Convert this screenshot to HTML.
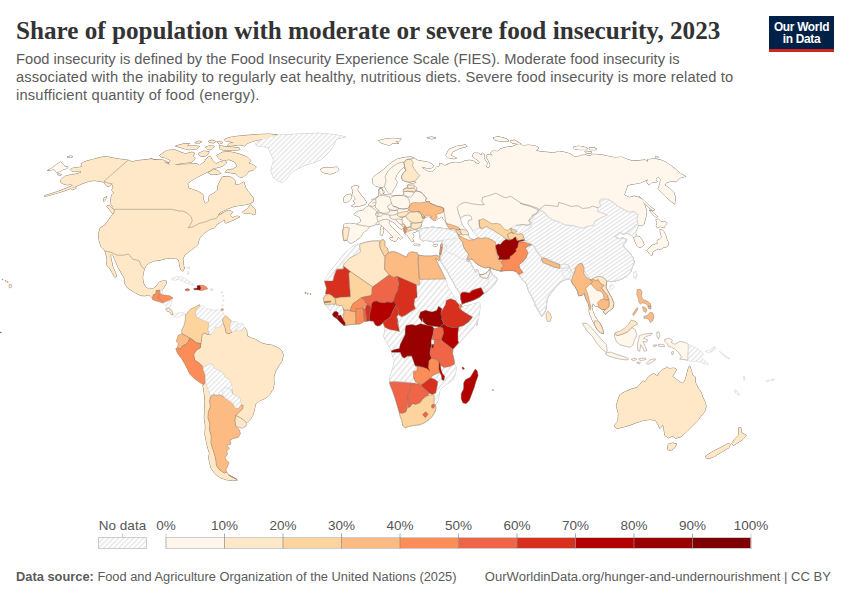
<!DOCTYPE html>
<html><head><meta charset="utf-8">
<style>
html,body{margin:0;padding:0;background:#fff;}
body{width:850px;height:600px;position:relative;overflow:hidden;font-family:"Liberation Sans",sans-serif;}
#title{position:absolute;left:16px;top:16px;font-family:"Liberation Serif",serif;font-weight:bold;font-size:25.17px;line-height:30px;color:#333;white-space:nowrap;letter-spacing:0px;}
#sub{position:absolute;left:16px;top:51px;font-size:14.7px;line-height:17.8px;color:#5b5b5b;white-space:nowrap;}
#sub span{display:block;}
#s2{letter-spacing:0.12px;}#s3{letter-spacing:0.18px;}
#logo{position:absolute;left:769px;top:16px;width:65px;height:36px;background:#002147;border-bottom:0;}
#logo:after{content:"";position:absolute;left:0;bottom:0;width:100%;height:3px;background:#ce261e;}
#logo div{position:absolute;left:0;width:100%;text-align:center;color:#fff;font-weight:bold;font-size:11.9px;line-height:12px;letter-spacing:-0.3px;}
#foot{position:absolute;left:16px;top:569px;font-size:12.85px;line-height:16px;color:#5b5b5b;white-space:nowrap;}
#foot2{position:absolute;right:19px;top:569px;font-size:13.05px;line-height:16px;color:#5b5b5b;white-space:nowrap;}
.lg{position:absolute;top:517.5px;font-size:13.5px;line-height:16px;color:#555;white-space:nowrap;transform:translateX(-50%);}
#map{position:absolute;left:0;top:0;}
</style></head><body>
<div id="title">Share of population with moderate or severe food insecurity, 2023</div>
<div id="sub"><span id="s1">Food insecurity is defined by the Food Insecurity Experience Scale (FIES). Moderate food insecurity is</span><span id="s2">associated with the inability to regularly eat healthy, nutritious diets. Severe food insecurity is more related to</span><span id="s3">insufficient quantity of food (energy).</span></div>
<div id="logo"><div style="top:4.5px">Our World</div><div style="top:16.7px">in Data</div></div>
<div id="foot"><b>Data source:</b> Food and Agriculture Organization of the United Nations (2025)</div>
<div id="foot2">OurWorldinData.org/hunger-and-undernourishment | CC BY</div>
<svg id="map" width="850" height="600" viewBox="0 0 850 600">
<defs><pattern id="hatch" patternUnits="userSpaceOnUse" width="8" height="3.54" patternTransform="rotate(-45)"><rect width="8" height="3.54" fill="#fff"/><rect x="0" y="0" width="8" height="1.2" fill="#e3e3e3"/></pattern><pattern id="hatchL" patternUnits="userSpaceOnUse" width="8" height="3.54" patternTransform="rotate(-45)"><rect width="8" height="3.54" fill="#fff"/><rect x="0" y="0" width="8" height="1.2" fill="#e3e3e3"/></pattern><pattern id="hatchC" patternUnits="userSpaceOnUse" width="8" height="3.29" patternTransform="rotate(-34.6)"><rect width="8" height="3.29" fill="#fff"/><rect x="0" y="0" width="8" height="1.2" fill="#e3e3e3"/></pattern><pattern id="hatchA" patternUnits="userSpaceOnUse" width="8" height="4.3" patternTransform="rotate(-50)"><rect width="8" height="4.3" fill="#fff"/><rect x="0" y="0" width="8" height="1.4" fill="#e3e3e3"/></pattern></defs>
<path d="M47.41,170.59 52.35,167.79 56.47,164.49 60.59,161.86 63.06,164 64.71,166.47 68,166.8 67.18,168.45 63.06,169.44 60.59,171.41 56.47,172.24 54,169.44 49.88,170.09Z" fill="#fff7ec" stroke="#8c7f72" stroke-width="1" stroke-linejoin="round"/>
<path d="M67.18,156.92 70.47,155.93 72.94,156.59 70.47,157.58Z" fill="#fff7ec" stroke="#8c7f72" stroke-width="1" stroke-linejoin="round"/>
<path d="M57.29,173.88 61.41,174.38 61.08,175.2 57.79,174.87Z" fill="#fff7ec" stroke="#8c7f72" stroke-width="1" stroke-linejoin="round"/>
<path d="M82,162.85 86.12,161.2 92.71,159.55 100.12,157.41 106.71,156.59 112.47,157.91 119.06,159.06 128.12,160.21 132.24,161.86 136.35,160.71 143.76,159.88 152,159.06 156.12,160.21 161.06,159.55 165.18,160.71 168.47,162.85 170.12,164.82 180,165.15 150,158.76 154.94,159.92 161.53,160.41 167.29,163.71 169.76,164.86 178.82,164.53 187.88,164.2 196.94,163.71 199.41,165.35 204.35,162.06 206.82,157.94 210.12,156.29 212.59,160.41 215.88,163.71 220,162.06 224.94,160.41 226.59,162.88 222.47,166.18 216.71,167.82 213.41,168.15 210.94,170.29 204.35,173.59 197.76,176.88 192,180.18 187.55,183.47 188.71,188.41 192.82,189.56 198.59,191.71 202.71,194.18 203.53,199.94 205.18,203.73 208.47,201.59 209.29,195.82 215.06,192.53 217.53,190.06 217.86,185.94 220,181 222.47,176.88 227.41,176.39 231.53,177.38 234.82,180.18 235.65,185.12 239.76,184.29 243.88,181.82 245.53,187.59 248.82,192.53 252.94,197.47 253.44,201.59 253.18,202.12 249.06,203.76 244.12,204.92 239.18,205.41 233.41,206.56 226.82,209.2 221.06,212 217.76,214.8 219.41,214.8 222.71,213.15 226,211.18 230.12,210.35 232.59,212 230.12,215.29 232.59,217.76 236.71,216.12 240,216.61 237.53,218.09 231.76,220.73 226,223.04 225.18,222.71 224.35,219.41 221.06,221.88 216.94,224.35 214.8,227.65 209.53,229.29 203.76,233.41 199.32,238.35 197.67,244.94 191.41,249.88 184.82,254.82 182.85,258.94 184,268 184.59,267.53 182.94,271.15 180.8,270 179.65,265.06 178.82,260.12 175.53,257.98 171.41,258.47 166.47,257.98 164,259.29 159.88,260.12 154.12,260.94 149.18,262.92 145.88,265.88 144.24,269.18 143.41,272.47 142.59,277.41 143.41,283.18 145.88,287.29 149.18,289.27 153.29,288.61 156.59,285.65 159.06,282.35 162.35,281.04 166.47,281.04 165.98,284 164,287.29 162.35,289.76 160.38,290.26 159.88,290.26 156.09,290.59 155.76,293.88 153.29,294.71 152.47,298 149.18,294.71 145.06,295.86 140.94,295.53 134.35,292.24 127.76,288.12 124.47,283.18 124.47,278.24 122,274.12 118.21,267.53 115.41,260.94 112.94,255.18 112.12,254.35 110.47,255.18 110.96,258.47 112.12,263.41 112.94,267.53 115.41,272.47 116.56,276.59 114.59,277.08 112.12,272.47 109.32,267.53 106.35,265.06 107.18,260.12 106.02,254.35 105.04,251.06 101.41,247.44 99.44,242 98.45,234.59 100.09,228 105.06,224.94 109.18,219.18 112.47,214.56 114.12,213.41 114.94,209.62 113.29,207.65 111.15,204.35 110.82,199.41 111.65,194.8 114.12,192.49 111.65,190.35 113.29,187.06 111.65,183.76 109.18,186.56 105.88,185.41 104.24,182.12 99.29,181.29 94.35,180.47 88.59,181.29 82,183.76 75.41,186.56 68,189.53 57.29,193.15 44.61,196.45 44.12,195.79 56.47,192 66.35,188.21 72.94,185.41 70.47,184.26 67.18,184.92 63.06,183.76 60.59,182.12 61.08,179.32 64.71,176.35 71.29,174.71 77.06,173.88 81.18,172.24 80.35,170.59 77.88,171.41 72.12,171.41 70.47,169.44 72.94,168.12 79.53,167.29 82.49,166.47 81.18,165.65Z" fill="#fee8c8" stroke="#8c7f72" stroke-width="1" stroke-linejoin="round"/>
<path d="M106.71,206 109.18,205.18 113.29,209.29 114.45,211.76 112.47,213.41 109.18,209.29Z" fill="#fee8c8" stroke="#8c7f72" stroke-width="1" stroke-linejoin="round"/>
<path d="M103.41,198.59 106.71,196.45 105.06,200.24 103.91,201.39Z" fill="#fee8c8" stroke="#8c7f72" stroke-width="1" stroke-linejoin="round"/>
<path d="M70.47,188.21 75.41,187.06 76.24,188.21 72.12,189.86Z" fill="#fee8c8" stroke="#8c7f72" stroke-width="1" stroke-linejoin="round"/>
<path d="M224.94,139 232.35,136.86 242.24,135.71 257.06,134.55 268.59,134.06 277.65,134.88 271.88,136.86 263.65,139 257.06,140.15 252.12,141.47 247.18,143.45 244.71,146.08 238.94,144.76 234,145.59 227.41,146.08 229.06,143.45 234,142.29 229.06,141.47 224.94,140.65Z" fill="#fee8c8" stroke="#8c7f72" stroke-width="1" stroke-linejoin="round"/>
<path d="M159.55,155.47 166.47,150.53 174.71,149.71 180.47,152.18 185.41,153.82 192,152.18 194.47,153 193.15,156.29 195.29,158.76 192,162.06 185.41,162.88 178.82,163.71 173.06,164.53 168.12,164.2 170.59,160.41 165.65,157.94 161.53,157.12Z" fill="#fee8c8" stroke="#8c7f72" stroke-width="1" stroke-linejoin="round"/>
<path d="M175.53,146.08 182.94,143.94 189.53,143.45 187.06,146.08 192.82,145.59 199.41,146.41 196.94,148.88 189.53,149.71 185.41,148.88 179.65,147.24Z" fill="#fee8c8" stroke="#8c7f72" stroke-width="1" stroke-linejoin="round"/>
<path d="M194.8,142.79 198.59,141.14 201.88,141.47 199.41,143.12Z" fill="#fee8c8" stroke="#8c7f72" stroke-width="1" stroke-linejoin="round"/>
<path d="M208.47,141.14 211.76,140.15 215.88,141.47 213.41,143.12 209.29,142.29Z" fill="#fee8c8" stroke="#8c7f72" stroke-width="1" stroke-linejoin="round"/>
<path d="M216.71,141.8 220,141.14 222.47,142.79 219.18,143.94Z" fill="#fee8c8" stroke="#8c7f72" stroke-width="1" stroke-linejoin="round"/>
<path d="M205.18,147.24 210.12,145.59 214.24,146.41 211.76,149.38 206.82,148.88Z" fill="#fee8c8" stroke="#8c7f72" stroke-width="1" stroke-linejoin="round"/>
<path d="M219.18,145.59 224.12,146.41 232.35,147.24 238.94,147.73 239.76,149.71 232.35,150.53 224.94,150.53 220,148.88Z" fill="#fee8c8" stroke="#8c7f72" stroke-width="1" stroke-linejoin="round"/>
<path d="M198.59,153.33 203.53,151.02 209.29,151.68 206.82,155.47 201.88,156.62 199.41,155.47Z" fill="#fee8c8" stroke="#8c7f72" stroke-width="1" stroke-linejoin="round"/>
<path d="M216.71,155.47 222.47,152.18 229.06,151.68 235.65,153 241.41,154.65 247.18,157.12 250.8,160.41 248.82,163.21 252.94,164.86 256.24,167 252.94,170.29 248.82,171.12 246.35,174.41 242.24,177.71 238.12,176.39 235.65,173.59 230.71,172.76 224.94,171.94 227.41,169.8 233.18,169.14 237.29,166.18 234.82,162.06 229.06,159.59 223.29,160.41 219.18,158.76Z" fill="#fee8c8" stroke="#8c7f72" stroke-width="1" stroke-linejoin="round"/>
<path d="M208.47,172.76 213.41,169.14 218.35,170.79 220.82,173.59 215.06,174.41 210.94,174.41Z" fill="#fee8c8" stroke="#8c7f72" stroke-width="1" stroke-linejoin="round"/>
<path d="M242.47,212 247.41,208.71 250.71,204.59 252.35,207.06 255.32,209.53 255.65,214.14 253.18,214.8 250.71,213.15 247.41,213.15 244.12,213.15Z" fill="#fee8c8" stroke="#8c7f72" stroke-width="1" stroke-linejoin="round"/>
<path d="M255.71,143.12 261.47,139.82 271.35,136.86 277.94,135.21 299.35,134.06 319.12,133.24 333.94,134.55 345.47,136.86 336.41,139 333.94,144.76 330.65,149.71 325.71,155.47 320.76,159.59 314.18,162.55 307.59,164.53 301,167 294.41,170.29 289.47,174.41 285.35,180.18 282.06,182.32 277.94,181 273,176.88 271.02,171.12 272.18,165.35 273.82,160.41 272.18,156.29 269.71,151.35 268.06,147.24 261.47,146.41 256.53,145.59Z" fill="url(#hatch)" stroke="#c8c8c8" stroke-width="1" stroke-linejoin="round"/>
<path d="M320.76,169.14 324.06,167.49 330.65,167.82 337.24,167 338.88,169.47 336.41,171.94 330.65,174.08 324.88,173.09 321.59,171.94Z" fill="#fff7ec" stroke="#8c7f72" stroke-width="1" stroke-linejoin="round"/>
<path d="M202.12,334.53 204.59,333.21 207.55,334.53 210.85,334.53 214.14,330.41 215.79,327.12 219.41,327.12 223.53,323.82 225.18,327.94 226,332.88 228.96,333.71 232.26,332.06 235.06,330.41 238.35,330.91 241.65,330.41 244.45,327.12 246.59,330.41 247.41,336.18 250.71,337.82 255.65,339.47 260.59,342.76 266.35,344.41 272.12,345.24 277.88,347.71 282,351 283.32,355.12 282,360.88 278.71,365.82 275.41,371.59 273.76,377.35 274.09,383.94 272.94,389.71 272.12,389.94 269.65,394.88 265.53,398.18 259.76,400.65 255.65,403.94 254.33,409.71 253.18,414.65 250.71,418.76 246.59,422.88 243.29,419.59 239.18,417.12 235.88,415.47 239.18,412.18 242.47,408.88 243.29,405.59 240.82,404.76 241.15,403.12 240,398.18 236.71,395.71 232.59,394.06 231.76,384.76 229.29,379 225.18,377.35 222.71,372.41 217.76,369.94 213.65,367.47 212,363.35 207.88,365 202.94,366.65 199.65,363.35 194.71,360.06 193.88,354.29 196.35,350.18 200.47,347.71 200.96,343.59 201.62,339.47Z" fill="#fee8c8" stroke="#8c7f72" stroke-width="1" stroke-linejoin="round"/>
<path d="M203.76,384.76 205.41,381.47 206.56,385 208.71,391.59 210.85,396.53 209.53,400.65 210.35,406.41 208.21,412.18 207.88,417.94 209.86,423.71 209.53,430.29 211.18,436.06 210.85,442.65 212.49,448.41 214.47,454.18 215.79,459.94 216.45,465.71 219.41,469.82 224.35,473.12 226.82,472.29 228.47,474.76 235.88,478.88 237.2,480.2 232.59,480.53 226,479.71 219.41,477.24 214.47,473.12 211.18,468.18 209.53,462.41 208.71,457.47 209.53,453.35 208.21,449.24 206.56,442.65 204.92,434.41 205.41,426.18 204.26,417.94 204.59,409.71 204.92,401.47 204.26,393.24 202.94,385Z" fill="#fee8c8" stroke="#8c7f72" stroke-width="1" stroke-linejoin="round"/>
<path d="M355.41,244.47 359.53,244.14 364.47,242.49 371.06,241.18 379.29,240.85 383.41,239.53 385.06,242 384.56,245.29 387.53,248.59 388.35,252.71 392.47,251.39 397.41,252.71 402.35,255.18 406.47,257.32 408.12,253.53 411.41,251.88 417.18,252.71 418.49,255.18 425.41,256 432,256 436.12,255.18 440.24,256.82 438.92,260.94 437.27,259.29 435.29,258.47 437.76,263.41 441.88,271.65 445.51,279.06 446.65,282 447.12,286.24 449.47,289.53 451.82,293.29 455.12,298 457.94,301.76 460.29,304.59 462,306.73 467.76,305.41 474.35,303.76 479.29,302.12 480.12,305.41 479.29,313.65 477.98,320.24 476.82,326 477.65,318 475.18,324.59 470.24,331.18 463.65,337.76 459.53,342.71 452.94,349.29 452.45,353.41 453.76,358.35 454.59,364.12 456.24,367.41 455.41,374 452.94,379.76 447.18,383.88 442.24,387.18 439.76,390.47 438.94,395.41 438.12,400.35 436.47,403.65 435.32,404.49 435.98,408.12 434.82,412.24 432.35,416.02 429.06,419.65 424.12,422.94 419.18,424.92 413.41,425.41 408.47,426.56 405.18,427.88 402.71,425.41 401.88,420.47 400.24,416.35 399.41,412.73 397.76,406.94 395.29,398.71 392.49,390.47 390.35,385.53 389.53,381.91 390.35,375.65 393.15,367.41 394.47,360.82 392.49,355.88 391.18,350.94 388.71,345.18 385.41,340.24 383.76,336.12 384.59,331.18 385.01,327.35 382.94,322.65 380.12,325.47 377.29,325.94 374.94,324.53 373.53,321.24 369.58,320.76 366.75,321.24 364.31,321.24 362.24,322.65 359.41,324.06 356.12,324.06 350.94,324.53 347.18,325 345.29,325.47 343.88,325.47 341.53,323.59 339.18,321.24 336.82,318.41 334.94,317.47 333.06,316.06 332.59,314.18 329.76,310.41 327.88,307.59 325.06,304.76 324.4,302.88 324.12,301.75 323.18,298.65 325.06,295.82 325.53,293.94 326.59,288.12 325.27,284 324.61,281.04 326.59,276.59 329.88,271.65 334,266.71 338.12,261.76 342.24,256 346.35,251.88 351.29,247.76Z" fill="url(#hatchA)" stroke="#c8c8c8" stroke-width="1" stroke-linejoin="round"/>
<path d="M344,240.79 343.18,236.18 342.85,231.56 343.51,227.94 343.51,227.12 344,224.32 349.76,223.33 356.35,224.32 361.29,221.35 359.65,217.24 353.88,214.44 357.18,211.47 362.12,210.65 365.41,207.85 368.71,205.71 368.76,204.35 372.06,201.06 374.53,198.59 377.49,197.76 378.65,195.29 379.14,192 378.65,189.53 381.12,188.21 382.76,191.18 383.09,194.14 386.06,194.8 391,195.29 395.94,195.79 401.71,195.79 404.18,194.47 403.35,191.18 404.18,188.71 407.47,187.88 408.29,184.59 412.41,183.76 415.71,182.94 416.53,182.12 414.06,181.29 409.12,182.12 405,181.29 402.2,179.65 401.71,176.35 403.35,173.06 406.15,170.59 405,168.12 403.35,167.29 400.06,170.59 396.76,174.71 395.12,178.82 397.26,182.12 395.94,185.41 393.47,189.53 391.82,192.82 389.35,193.65 387.71,192 386.06,189.53 384.41,186.24 381.94,187.55 379.47,187.06 375.35,185.91 372.55,182.94 372.55,178 376.18,174.71 381.12,171.41 386.06,167.29 391.82,162.35 397.59,159.06 404.18,157.41 410.76,156.92 414.06,158.24 417.35,160.21 422.29,161.2 427.24,161.86 432.18,164 433.82,166.47 430.53,168.45 425.59,167.79 421.47,166.47 423.94,168.94 427.24,171.08 431.35,172.24 433.82,170.59 436.29,167.29 440.41,165.65 439.59,163.18 442.06,164 444.53,165.65 450.29,163.18 455.24,162.35 460.18,162.85 465.12,160.71 470.06,160.21 475,161.53 474.76,162.88 478.88,163.71 479.71,162.06 475.59,158.76 472.29,156.29 473.94,153 478.88,153.33 481.35,155.47 482.18,153 484.65,154.65 483.82,157.94 487.12,162.88 486.29,167 488.76,168.15 490.41,165.35 488.76,161.24 486.29,157.12 487.12,154.65 492.88,155.47 490.41,153 492.88,151.02 497.82,151.35 500.29,148.88 506.06,147.24 512.65,146.41 516.76,144.44 520.06,143.94 522.53,145.59 529.12,145.09 535.71,146.08 539,148.06 535.71,150.53 540.65,151.68 547.24,152.18 553.82,153 558.76,151.35 564.53,152.18 570.29,153.82 573.59,156.29 577.71,157.12 580.18,155.47 585.12,154.98 590.06,155.96 592.53,154.32 595,154.32 601.35,154.65 607.94,156.29 614.53,157.61 621.94,157.12 627.71,159.59 632.65,160.91 640.06,160.41 645,159.92 648.29,162.06 647.47,159.59 654.06,158.76 660.65,159.92 665.59,162.06 670.53,165.35 675.47,169.14 680.41,173.59 685.68,176.39 680.41,177.71 676.29,181.82 672.18,181 666.41,182.65 664.76,185.12 669.71,188.41 673.82,192.53 675.47,197.47 674.65,204.06 671.35,201.59 665.59,196.65 660.65,191.71 658.18,188.41 659.82,184.29 660.65,179.35 658.18,176.39 655.71,179.35 657.35,181.82 651.59,182.65 649.12,185.12 646.65,181.82 648.29,179.35 640.88,182.65 634.29,183.96 627.71,185.12 626.06,190.06 624.08,195 629.35,197.47 634.29,196.15 639.24,197.47 642.53,200.76 645,205.71 646.65,211.47 645.82,217.24 644.18,223 644.35,224 641.88,225.65 638.59,224.82 636.94,228.94 635.29,232.24 636.12,234.71 634.14,238 636.94,236.02 640.24,237.18 642.38,240.47 644.02,244.59 642.38,246.56 639.08,247.55 636.94,245.41 635.29,242.12 633.65,237.18 630.35,234.71 627.06,233.06 622.94,234.38 620.47,232.24 617.18,234.71 614.71,236.35 618.82,238.82 622.94,238 627.06,239.65 625.41,242.12 622.94,245.41 625.41,248.71 629.53,252.82 633.15,257.76 634.14,262.71 632,267.65 630.35,272.59 627.06,275.88 622.94,278.35 618.82,280 614.71,281.15 610.59,281.65 608.12,280.82 606.47,280.82 606.65,281.29 605.82,287.06 608.29,292 611.59,297.76 613.73,303.53 613.24,307.65 609.12,310.94 605,314.24 603.35,311.76 605.82,309.29 602.53,309.62 599.56,307.98 598.41,306.82 595.12,306 592.65,303.53 591.82,307.65 592.98,311.76 594.62,315.88 597.26,320 600.06,323.29 602.53,328.24 603.35,333.67 600.88,333.18 597.59,329.88 594.62,324.94 592.65,320.82 590.18,315.06 589.02,310.94 589.35,307.65 588.53,302.71 587.38,301.88 585.24,296.94 584.41,293.15 581.94,295.29 578.65,295.79 577.49,291.18 575.35,287.06 572.55,283.76 571.56,280.47 568.76,278.82 565.47,279.65 563,280.47 559.71,282.94 555.59,287.06 552.29,291.18 549,295.29 546.86,299.41 546.53,304.35 545.71,310.12 543.24,315.06 541.59,316.21 539.12,311.76 536.65,307.65 535,305.18 535.29,303.76 532,297.18 528.71,291.41 527.06,285.65 525.41,282.35 522.94,280.38 520.8,277.41 518.82,274.45 516.35,271.65 512.24,270 505.65,270.49 500.71,271.15 501.24,271.18 497.47,270.24 492.76,268.82 490.88,267.88 489,266.94 485.24,267.88 480.53,266 477.24,264.12 473.94,261.29 472.06,258.94 469.71,258.94 466.88,258.47 467.82,258.94 469.24,260.35 470.65,262.71 472.06,266 473.94,269.29 475.82,272.59 476.58,271.65 476.29,269.29 477.71,270.24 478.65,272.59 479.59,274.94 481.47,274.94 484.29,274.28 487.12,272.59 489,270.24 489.94,267.41 490.88,272.12 492.76,274.94 495.59,276.82 497.47,279.18 494.65,283.88 490.88,288.12 487.12,291.41 483.82,293.48 479.59,297.06 474.88,299.41 470.18,301.29 465.47,302.71 462.18,304.12 460.76,298.94 460.58,294.24 458.88,291.41 456.06,287.65 453.24,282 450.41,277.29 447.59,271.65 444.29,266.94 441.47,262.24 441,261.76 440.65,257.47 439.82,255 440.15,250.88 440.65,247.26 441.14,244.29 442.29,241.82 443.12,240.18 438.18,241 433.24,241.82 428.29,240.67 425,240.18 423.88,241.12 420.26,239.14 419.76,234.53 418.94,230.41 421.41,228.76 427.18,227.94 432.12,227.12 438.71,227.94 445.29,228.76 450.24,229.59 455.18,227.94 450.24,225.47 447.76,223.82 443.65,219.71 442,216.41 437.88,218.88 435.41,220.53 432.94,218.06 428.82,216.41 424.71,217.24 422.24,219.71 420.59,222.18 421.41,225.47 420.26,227.94 418.94,227.94 415.65,228.76 418.12,230.41 415.65,232.06 412.35,232.88 414,236.18 412.35,238.65 414,241.94 411.53,241.12 409.06,237.82 407.41,235.35 404.94,233.71 403.79,230.41 404.12,227.12 401.65,229.59 397.53,226.29 393.41,222.18 390.12,220.53 388.47,223 391.76,227.12 395.88,231.24 400,235.35 402.47,238.15 400,239.14 398.35,237 396.71,240.29 395.06,241.94 394.24,238.65 390.94,234.53 386.82,230.41 383.53,227.12 379.41,223.82 375.29,224.65 369.53,226.62 367.06,229.59 362.94,232.88 360.47,237 356.35,240.29 352.24,242.76 349.76,243.09 347.29,240.29Z" fill="#fff7ec" stroke="#8c7f72" stroke-width="1" stroke-linejoin="round"/>
<path d="M351.47,187.06 355.59,185.41 358.88,186.56 357.24,189.53 359.71,193.15 363.33,197.76 366.29,201.88 365.47,204.35 359.71,206 353.12,206.82 351.47,206 355.59,203.53 353.12,201.06 355.59,199.41 354.76,196.94 352.29,194.47 353.12,191.18Z" fill="#fff7ec" stroke="#8c7f72" stroke-width="1" stroke-linejoin="round"/>
<path d="M343.56,197.76 346.53,194.8 350.65,194.14 351.8,196.94 350.15,200.24 346.53,202.38 343.56,201.88Z" fill="#fff7ec" stroke="#8c7f72" stroke-width="1" stroke-linejoin="round"/>
<path d="M389.62,238.15 393.41,237.49 396.71,238.15 395.06,241.12 391.27,240.29Z" fill="#fff7ec" stroke="#8c7f72" stroke-width="1" stroke-linejoin="round"/>
<path d="M380.73,227.12 382.71,226.29 383.53,230.41 382.38,235.35 380.24,234.53Z" fill="#fff7ec" stroke="#8c7f72" stroke-width="1" stroke-linejoin="round"/>
<path d="M381.88,222.18 383.04,221.68 383.53,225.47 382.05,225.96Z" fill="#fff7ec" stroke="#8c7f72" stroke-width="1" stroke-linejoin="round"/>
<path d="M414,244.08 419.76,244.41 419.76,245.73 414.33,245.4Z" fill="#fff7ec" stroke="#8c7f72" stroke-width="1" stroke-linejoin="round"/>
<path d="M432.94,245.24 437.06,244.08 437.39,245.73 434.09,246.72Z" fill="#fff7ec" stroke="#8c7f72" stroke-width="1" stroke-linejoin="round"/>
<path d="M493.21,137.85 497.82,136.86 504.41,138.18 508.53,140.15 506.06,141.47 499.47,141.14 494.53,139.82Z" fill="#fff7ec" stroke="#8c7f72" stroke-width="1" stroke-linejoin="round"/>
<path d="M510.18,140.65 514.29,140.15 517.59,141.8 514.29,143.45 510.67,142.29Z" fill="#fff7ec" stroke="#8c7f72" stroke-width="1" stroke-linejoin="round"/>
<path d="M573.26,147.24 578.53,146.08 585.94,147.73 586.76,149.38 580.18,149.71 574.41,148.88Z" fill="#fff7ec" stroke="#8c7f72" stroke-width="1" stroke-linejoin="round"/>
<path d="M589.24,148.06 595,147.73 595,149.71 590.06,149.71Z" fill="#fff7ec" stroke="#8c7f72" stroke-width="1" stroke-linejoin="round"/>
<path d="M575,146.74 581.59,146.41 587.35,148.06 586.53,149.71 579.94,149.38 575,148.88Z" fill="#fff7ec" stroke="#8c7f72" stroke-width="1" stroke-linejoin="round"/>
<path d="M589,148.06 596.41,148.55 596.41,149.71 589.49,149.38Z" fill="#fff7ec" stroke="#8c7f72" stroke-width="1" stroke-linejoin="round"/>
<path d="M584.88,151.35 591.47,151.68 591.14,153.33 585.71,153Z" fill="#fff7ec" stroke="#8c7f72" stroke-width="1" stroke-linejoin="round"/>
<path d="M655.38,156.29 658.18,156.79 657.85,157.94 655.71,157.45Z" fill="#fff7ec" stroke="#8c7f72" stroke-width="1" stroke-linejoin="round"/>
<path d="M445.88,155.29 448.94,149.41 456.47,146.35 465.88,144.71 467.06,146.35 458.82,148.71 452.94,151.76 450.59,155.29 456.47,158.12 454.12,158.82 448.24,157.65Z" fill="#fff7ec" stroke="#8c7f72" stroke-width="1" stroke-linejoin="round"/>
<path d="M378.35,140.71 385.88,138.82 392.94,138.35 401.18,138.82 400,140.71 395.29,141.18 398.82,143.53 392.94,143.06 389.41,145.41 384.71,144 381.18,143.06Z" fill="#fff7ec" stroke="#8c7f72" stroke-width="1" stroke-linejoin="round"/>
<path d="M427.06,137.65 431.76,136.94 435.76,137.88 431.76,139.06Z" fill="#fff7ec" stroke="#8c7f72" stroke-width="1" stroke-linejoin="round"/>
<path d="M493.65,137.65 498.82,136.94 507.06,139.29 508.71,141.18 501.18,140.71 495.29,139.29Z" fill="#fff7ec" stroke="#8c7f72" stroke-width="1" stroke-linejoin="round"/>
<path d="M510.59,140.71 516.47,141.65 521.18,144 517.18,144 511.76,142.59Z" fill="#fff7ec" stroke="#8c7f72" stroke-width="1" stroke-linejoin="round"/>
<path d="M639.24,196.65 644.18,200.76 649.94,206.53 654.88,209.82 652.41,210.32 648.29,207.35 644.18,203.24 640.06,198.29Z" fill="#fff7ec" stroke="#8c7f72" stroke-width="1" stroke-linejoin="round"/>
<path d="M651.59,210.65 657.35,216.41 656.04,217.24 652.41,213.94Z" fill="#fff7ec" stroke="#8c7f72" stroke-width="1" stroke-linejoin="round"/>
<path d="M649.29,210 652.59,211.65 657.53,216.59 655.88,216.92 651.76,213.29Z" fill="#fff7ec" stroke="#8c7f72" stroke-width="1" stroke-linejoin="round"/>
<path d="M655.88,219.88 658.35,219.06 660.82,221.53 664.94,221.53 667.08,223.18 664.94,225.65 664.12,227.79 660,226.47 657.53,228.12 656.21,225.65 657.2,222.85Z" fill="#fff7ec" stroke="#8c7f72" stroke-width="1" stroke-linejoin="round"/>
<path d="M660,229.44 663.29,230.59 665.44,234.71 666.59,238.82 668.73,243.76 667.41,246.56 663.29,247.55 660.82,249.53 658.35,248.71 655.06,250.35 652.59,252 651.76,255.79 650.12,254.47 646.82,250.35 649.29,248.21 651.76,245.41 655.06,244.26 657.53,243.76 657.2,240.47 659.18,239.65 661.65,237.18 660.49,233.06Z" fill="#fff7ec" stroke="#8c7f72" stroke-width="1" stroke-linejoin="round"/>
<path d="M616.35,405.65 618.82,397.41 620.47,394.12 625.41,391.65 631.18,389.18 636.94,387.53 640.24,384.24 642.71,380.94 645.18,381.76 648.47,376.82 653.41,373.53 657.53,376 659.18,372.71 662.47,369.41 665.44,368.59 666.59,366.94 669.06,368.59 674,368.09 676.47,369.41 674.82,372.71 672.35,376.33 677.29,380.12 682.24,383.41 684.71,381.27 686.35,376 688,369.41 689.65,365.79 691.29,370.24 692.45,375.18 695.08,376.82 695.41,382.59 697.88,387.53 701.18,392.47 702.82,397.41 705.29,402.35 706.12,406.47 704.47,412.24 702.59,413.82 697.88,420.41 692.24,426.06 686.59,431.71 680.94,436.79 675.29,438.29 673.41,435.47 668.71,437.92 664.94,435.47 664,429.82 663.06,424.74 659.86,428.51 658.35,425.12 655.53,420.41 649.88,419.47 643.29,420.41 635.76,422.86 630.12,425.12 623.53,427 616.94,428.51 614.12,426.06 617.88,421.35 618.45,413.82Z" fill="#fee8c8" stroke="#8c7f72" stroke-width="1" stroke-linejoin="round"/>
<path d="M668.14,444.32 672.47,443 676.8,443.94 674.35,448.08 670.59,450.53 667.76,449.59Z" fill="#fee8c8" stroke="#8c7f72" stroke-width="1" stroke-linejoin="round"/>
<path d="M738.92,427.38 740.8,427.94 741.55,432.65 746.45,435.47 743.06,439.24 737.41,443 733.27,445.45 731.76,443.56 734.59,439.24 738.35,435.47Z" fill="#fee8c8" stroke="#8c7f72" stroke-width="1" stroke-linejoin="round"/>
<path d="M705.41,456.18 712.94,451.47 720.47,447.71 728,443.56 730.26,444.32 728.94,447.71 722.35,451.47 714.82,456.18 709.18,458.62 706.35,458.06Z" fill="#fee8c8" stroke="#8c7f72" stroke-width="1" stroke-linejoin="round"/>
<path d="M47.41,170.59 52.35,167.79 56.47,164.49 60.59,161.86 63.06,164 64.71,166.47 68,166.8 67.18,168.45 63.06,169.44 60.59,171.41 56.47,172.24 54,169.44 49.88,170.09Z" fill="#fff7ec"/>
<path d="M67.18,156.92 70.47,155.93 72.94,156.59 70.47,157.58Z" fill="#fff7ec"/>
<path d="M57.29,173.88 61.41,174.38 61.08,175.2 57.79,174.87Z" fill="#fff7ec"/>
<path d="M82,162.85 86.12,161.2 92.71,159.55 100.12,157.41 106.71,156.59 112.47,157.91 119.06,159.06 128.12,160.21 132.24,161.86 136.35,160.71 143.76,159.88 152,159.06 156.12,160.21 161.06,159.55 165.18,160.71 168.47,162.85 170.12,164.82 180,165.15 150,158.76 154.94,159.92 161.53,160.41 167.29,163.71 169.76,164.86 178.82,164.53 187.88,164.2 196.94,163.71 199.41,165.35 204.35,162.06 206.82,157.94 210.12,156.29 212.59,160.41 215.88,163.71 220,162.06 224.94,160.41 226.59,162.88 222.47,166.18 216.71,167.82 213.41,168.15 210.94,170.29 204.35,173.59 197.76,176.88 192,180.18 187.55,183.47 188.71,188.41 192.82,189.56 198.59,191.71 202.71,194.18 203.53,199.94 205.18,203.73 208.47,201.59 209.29,195.82 215.06,192.53 217.53,190.06 217.86,185.94 220,181 222.47,176.88 227.41,176.39 231.53,177.38 234.82,180.18 235.65,185.12 239.76,184.29 243.88,181.82 245.53,187.59 248.82,192.53 252.94,197.47 253.44,201.59 253.18,202.12 249.06,203.76 244.12,204.92 239.18,205.41 233.41,206.56 226.82,209.2 221.06,212 217.76,214.8 219.41,214.8 222.71,213.15 226,211.18 230.12,210.35 232.59,212 230.12,215.29 232.59,217.76 236.71,216.12 240,216.61 237.53,218.09 231.76,220.73 226,223.04 225.18,222.71 224.35,219.41 221.06,221.88 216.94,224.35 214.8,227.65 209.53,229.29 203.76,233.41 199.32,238.35 197.67,244.94 191.41,249.88 184.82,254.82 182.85,258.94 184,268 184.59,267.53 182.94,271.15 180.8,270 179.65,265.06 178.82,260.12 175.53,257.98 171.41,258.47 166.47,257.98 164,259.29 159.88,260.12 154.12,260.94 149.18,262.92 145.88,265.88 144.24,269.18 143.41,272.47 142.59,277.41 143.41,283.18 145.88,287.29 149.18,289.27 153.29,288.61 156.59,285.65 159.06,282.35 162.35,281.04 166.47,281.04 165.98,284 164,287.29 162.35,289.76 160.38,290.26 159.88,290.26 156.09,290.59 155.76,293.88 153.29,294.71 152.47,298 149.18,294.71 145.06,295.86 140.94,295.53 134.35,292.24 127.76,288.12 124.47,283.18 124.47,278.24 122,274.12 118.21,267.53 115.41,260.94 112.94,255.18 112.12,254.35 110.47,255.18 110.96,258.47 112.12,263.41 112.94,267.53 115.41,272.47 116.56,276.59 114.59,277.08 112.12,272.47 109.32,267.53 106.35,265.06 107.18,260.12 106.02,254.35 105.04,251.06 101.41,247.44 99.44,242 98.45,234.59 100.09,228 105.06,224.94 109.18,219.18 112.47,214.56 114.12,213.41 114.94,209.62 113.29,207.65 111.15,204.35 110.82,199.41 111.65,194.8 114.12,192.49 111.65,190.35 113.29,187.06 111.65,183.76 109.18,186.56 105.88,185.41 104.24,182.12 99.29,181.29 94.35,180.47 88.59,181.29 82,183.76 75.41,186.56 68,189.53 57.29,193.15 44.61,196.45 44.12,195.79 56.47,192 66.35,188.21 72.94,185.41 70.47,184.26 67.18,184.92 63.06,183.76 60.59,182.12 61.08,179.32 64.71,176.35 71.29,174.71 77.06,173.88 81.18,172.24 80.35,170.59 77.88,171.41 72.12,171.41 70.47,169.44 72.94,168.12 79.53,167.29 82.49,166.47 81.18,165.65Z" fill="#fee8c8"/>
<path d="M106.71,206 109.18,205.18 113.29,209.29 114.45,211.76 112.47,213.41 109.18,209.29Z" fill="#fee8c8"/>
<path d="M103.41,198.59 106.71,196.45 105.06,200.24 103.91,201.39Z" fill="#fee8c8"/>
<path d="M70.47,188.21 75.41,187.06 76.24,188.21 72.12,189.86Z" fill="#fee8c8"/>
<path d="M224.94,139 232.35,136.86 242.24,135.71 257.06,134.55 268.59,134.06 277.65,134.88 271.88,136.86 263.65,139 257.06,140.15 252.12,141.47 247.18,143.45 244.71,146.08 238.94,144.76 234,145.59 227.41,146.08 229.06,143.45 234,142.29 229.06,141.47 224.94,140.65Z" fill="#fee8c8"/>
<path d="M159.55,155.47 166.47,150.53 174.71,149.71 180.47,152.18 185.41,153.82 192,152.18 194.47,153 193.15,156.29 195.29,158.76 192,162.06 185.41,162.88 178.82,163.71 173.06,164.53 168.12,164.2 170.59,160.41 165.65,157.94 161.53,157.12Z" fill="#fee8c8"/>
<path d="M175.53,146.08 182.94,143.94 189.53,143.45 187.06,146.08 192.82,145.59 199.41,146.41 196.94,148.88 189.53,149.71 185.41,148.88 179.65,147.24Z" fill="#fee8c8"/>
<path d="M194.8,142.79 198.59,141.14 201.88,141.47 199.41,143.12Z" fill="#fee8c8"/>
<path d="M208.47,141.14 211.76,140.15 215.88,141.47 213.41,143.12 209.29,142.29Z" fill="#fee8c8"/>
<path d="M216.71,141.8 220,141.14 222.47,142.79 219.18,143.94Z" fill="#fee8c8"/>
<path d="M205.18,147.24 210.12,145.59 214.24,146.41 211.76,149.38 206.82,148.88Z" fill="#fee8c8"/>
<path d="M219.18,145.59 224.12,146.41 232.35,147.24 238.94,147.73 239.76,149.71 232.35,150.53 224.94,150.53 220,148.88Z" fill="#fee8c8"/>
<path d="M198.59,153.33 203.53,151.02 209.29,151.68 206.82,155.47 201.88,156.62 199.41,155.47Z" fill="#fee8c8"/>
<path d="M216.71,155.47 222.47,152.18 229.06,151.68 235.65,153 241.41,154.65 247.18,157.12 250.8,160.41 248.82,163.21 252.94,164.86 256.24,167 252.94,170.29 248.82,171.12 246.35,174.41 242.24,177.71 238.12,176.39 235.65,173.59 230.71,172.76 224.94,171.94 227.41,169.8 233.18,169.14 237.29,166.18 234.82,162.06 229.06,159.59 223.29,160.41 219.18,158.76Z" fill="#fee8c8"/>
<path d="M208.47,172.76 213.41,169.14 218.35,170.79 220.82,173.59 215.06,174.41 210.94,174.41Z" fill="#fee8c8"/>
<path d="M242.47,212 247.41,208.71 250.71,204.59 252.35,207.06 255.32,209.53 255.65,214.14 253.18,214.8 250.71,213.15 247.41,213.15 244.12,213.15Z" fill="#fee8c8"/>
<path d="M255.71,143.12 261.47,139.82 271.35,136.86 277.94,135.21 299.35,134.06 319.12,133.24 333.94,134.55 345.47,136.86 336.41,139 333.94,144.76 330.65,149.71 325.71,155.47 320.76,159.59 314.18,162.55 307.59,164.53 301,167 294.41,170.29 289.47,174.41 285.35,180.18 282.06,182.32 277.94,181 273,176.88 271.02,171.12 272.18,165.35 273.82,160.41 272.18,156.29 269.71,151.35 268.06,147.24 261.47,146.41 256.53,145.59Z" fill="url(#hatch)"/>
<path d="M320.76,169.14 324.06,167.49 330.65,167.82 337.24,167 338.88,169.47 336.41,171.94 330.65,174.08 324.88,173.09 321.59,171.94Z" fill="#fff7ec"/>
<path d="M202.12,334.53 204.59,333.21 207.55,334.53 210.85,334.53 214.14,330.41 215.79,327.12 219.41,327.12 223.53,323.82 225.18,327.94 226,332.88 228.96,333.71 232.26,332.06 235.06,330.41 238.35,330.91 241.65,330.41 244.45,327.12 246.59,330.41 247.41,336.18 250.71,337.82 255.65,339.47 260.59,342.76 266.35,344.41 272.12,345.24 277.88,347.71 282,351 283.32,355.12 282,360.88 278.71,365.82 275.41,371.59 273.76,377.35 274.09,383.94 272.94,389.71 272.12,389.94 269.65,394.88 265.53,398.18 259.76,400.65 255.65,403.94 254.33,409.71 253.18,414.65 250.71,418.76 246.59,422.88 243.29,419.59 239.18,417.12 235.88,415.47 239.18,412.18 242.47,408.88 243.29,405.59 240.82,404.76 241.15,403.12 240,398.18 236.71,395.71 232.59,394.06 231.76,384.76 229.29,379 225.18,377.35 222.71,372.41 217.76,369.94 213.65,367.47 212,363.35 207.88,365 202.94,366.65 199.65,363.35 194.71,360.06 193.88,354.29 196.35,350.18 200.47,347.71 200.96,343.59 201.62,339.47Z" fill="#fee8c8"/>
<path d="M203.76,384.76 205.41,381.47 206.56,385 208.71,391.59 210.85,396.53 209.53,400.65 210.35,406.41 208.21,412.18 207.88,417.94 209.86,423.71 209.53,430.29 211.18,436.06 210.85,442.65 212.49,448.41 214.47,454.18 215.79,459.94 216.45,465.71 219.41,469.82 224.35,473.12 226.82,472.29 228.47,474.76 235.88,478.88 237.2,480.2 232.59,480.53 226,479.71 219.41,477.24 214.47,473.12 211.18,468.18 209.53,462.41 208.71,457.47 209.53,453.35 208.21,449.24 206.56,442.65 204.92,434.41 205.41,426.18 204.26,417.94 204.59,409.71 204.92,401.47 204.26,393.24 202.94,385Z" fill="#fee8c8"/>
<path d="M355.41,244.47 359.53,244.14 364.47,242.49 371.06,241.18 379.29,240.85 383.41,239.53 385.06,242 384.56,245.29 387.53,248.59 388.35,252.71 392.47,251.39 397.41,252.71 402.35,255.18 406.47,257.32 408.12,253.53 411.41,251.88 417.18,252.71 418.49,255.18 425.41,256 432,256 436.12,255.18 440.24,256.82 438.92,260.94 437.27,259.29 435.29,258.47 437.76,263.41 441.88,271.65 445.51,279.06 446.65,282 447.12,286.24 449.47,289.53 451.82,293.29 455.12,298 457.94,301.76 460.29,304.59 462,306.73 467.76,305.41 474.35,303.76 479.29,302.12 480.12,305.41 479.29,313.65 477.98,320.24 476.82,326 477.65,318 475.18,324.59 470.24,331.18 463.65,337.76 459.53,342.71 452.94,349.29 452.45,353.41 453.76,358.35 454.59,364.12 456.24,367.41 455.41,374 452.94,379.76 447.18,383.88 442.24,387.18 439.76,390.47 438.94,395.41 438.12,400.35 436.47,403.65 435.32,404.49 435.98,408.12 434.82,412.24 432.35,416.02 429.06,419.65 424.12,422.94 419.18,424.92 413.41,425.41 408.47,426.56 405.18,427.88 402.71,425.41 401.88,420.47 400.24,416.35 399.41,412.73 397.76,406.94 395.29,398.71 392.49,390.47 390.35,385.53 389.53,381.91 390.35,375.65 393.15,367.41 394.47,360.82 392.49,355.88 391.18,350.94 388.71,345.18 385.41,340.24 383.76,336.12 384.59,331.18 385.01,327.35 382.94,322.65 380.12,325.47 377.29,325.94 374.94,324.53 373.53,321.24 369.58,320.76 366.75,321.24 364.31,321.24 362.24,322.65 359.41,324.06 356.12,324.06 350.94,324.53 347.18,325 345.29,325.47 343.88,325.47 341.53,323.59 339.18,321.24 336.82,318.41 334.94,317.47 333.06,316.06 332.59,314.18 329.76,310.41 327.88,307.59 325.06,304.76 324.4,302.88 324.12,301.75 323.18,298.65 325.06,295.82 325.53,293.94 326.59,288.12 325.27,284 324.61,281.04 326.59,276.59 329.88,271.65 334,266.71 338.12,261.76 342.24,256 346.35,251.88 351.29,247.76Z" fill="url(#hatchA)"/>
<path d="M344,240.79 343.18,236.18 342.85,231.56 343.51,227.94 343.51,227.12 344,224.32 349.76,223.33 356.35,224.32 361.29,221.35 359.65,217.24 353.88,214.44 357.18,211.47 362.12,210.65 365.41,207.85 368.71,205.71 368.76,204.35 372.06,201.06 374.53,198.59 377.49,197.76 378.65,195.29 379.14,192 378.65,189.53 381.12,188.21 382.76,191.18 383.09,194.14 386.06,194.8 391,195.29 395.94,195.79 401.71,195.79 404.18,194.47 403.35,191.18 404.18,188.71 407.47,187.88 408.29,184.59 412.41,183.76 415.71,182.94 416.53,182.12 414.06,181.29 409.12,182.12 405,181.29 402.2,179.65 401.71,176.35 403.35,173.06 406.15,170.59 405,168.12 403.35,167.29 400.06,170.59 396.76,174.71 395.12,178.82 397.26,182.12 395.94,185.41 393.47,189.53 391.82,192.82 389.35,193.65 387.71,192 386.06,189.53 384.41,186.24 381.94,187.55 379.47,187.06 375.35,185.91 372.55,182.94 372.55,178 376.18,174.71 381.12,171.41 386.06,167.29 391.82,162.35 397.59,159.06 404.18,157.41 410.76,156.92 414.06,158.24 417.35,160.21 422.29,161.2 427.24,161.86 432.18,164 433.82,166.47 430.53,168.45 425.59,167.79 421.47,166.47 423.94,168.94 427.24,171.08 431.35,172.24 433.82,170.59 436.29,167.29 440.41,165.65 439.59,163.18 442.06,164 444.53,165.65 450.29,163.18 455.24,162.35 460.18,162.85 465.12,160.71 470.06,160.21 475,161.53 474.76,162.88 478.88,163.71 479.71,162.06 475.59,158.76 472.29,156.29 473.94,153 478.88,153.33 481.35,155.47 482.18,153 484.65,154.65 483.82,157.94 487.12,162.88 486.29,167 488.76,168.15 490.41,165.35 488.76,161.24 486.29,157.12 487.12,154.65 492.88,155.47 490.41,153 492.88,151.02 497.82,151.35 500.29,148.88 506.06,147.24 512.65,146.41 516.76,144.44 520.06,143.94 522.53,145.59 529.12,145.09 535.71,146.08 539,148.06 535.71,150.53 540.65,151.68 547.24,152.18 553.82,153 558.76,151.35 564.53,152.18 570.29,153.82 573.59,156.29 577.71,157.12 580.18,155.47 585.12,154.98 590.06,155.96 592.53,154.32 595,154.32 601.35,154.65 607.94,156.29 614.53,157.61 621.94,157.12 627.71,159.59 632.65,160.91 640.06,160.41 645,159.92 648.29,162.06 647.47,159.59 654.06,158.76 660.65,159.92 665.59,162.06 670.53,165.35 675.47,169.14 680.41,173.59 685.68,176.39 680.41,177.71 676.29,181.82 672.18,181 666.41,182.65 664.76,185.12 669.71,188.41 673.82,192.53 675.47,197.47 674.65,204.06 671.35,201.59 665.59,196.65 660.65,191.71 658.18,188.41 659.82,184.29 660.65,179.35 658.18,176.39 655.71,179.35 657.35,181.82 651.59,182.65 649.12,185.12 646.65,181.82 648.29,179.35 640.88,182.65 634.29,183.96 627.71,185.12 626.06,190.06 624.08,195 629.35,197.47 634.29,196.15 639.24,197.47 642.53,200.76 645,205.71 646.65,211.47 645.82,217.24 644.18,223 644.35,224 641.88,225.65 638.59,224.82 636.94,228.94 635.29,232.24 636.12,234.71 634.14,238 636.94,236.02 640.24,237.18 642.38,240.47 644.02,244.59 642.38,246.56 639.08,247.55 636.94,245.41 635.29,242.12 633.65,237.18 630.35,234.71 627.06,233.06 622.94,234.38 620.47,232.24 617.18,234.71 614.71,236.35 618.82,238.82 622.94,238 627.06,239.65 625.41,242.12 622.94,245.41 625.41,248.71 629.53,252.82 633.15,257.76 634.14,262.71 632,267.65 630.35,272.59 627.06,275.88 622.94,278.35 618.82,280 614.71,281.15 610.59,281.65 608.12,280.82 606.47,280.82 606.65,281.29 605.82,287.06 608.29,292 611.59,297.76 613.73,303.53 613.24,307.65 609.12,310.94 605,314.24 603.35,311.76 605.82,309.29 602.53,309.62 599.56,307.98 598.41,306.82 595.12,306 592.65,303.53 591.82,307.65 592.98,311.76 594.62,315.88 597.26,320 600.06,323.29 602.53,328.24 603.35,333.67 600.88,333.18 597.59,329.88 594.62,324.94 592.65,320.82 590.18,315.06 589.02,310.94 589.35,307.65 588.53,302.71 587.38,301.88 585.24,296.94 584.41,293.15 581.94,295.29 578.65,295.79 577.49,291.18 575.35,287.06 572.55,283.76 571.56,280.47 568.76,278.82 565.47,279.65 563,280.47 559.71,282.94 555.59,287.06 552.29,291.18 549,295.29 546.86,299.41 546.53,304.35 545.71,310.12 543.24,315.06 541.59,316.21 539.12,311.76 536.65,307.65 535,305.18 535.29,303.76 532,297.18 528.71,291.41 527.06,285.65 525.41,282.35 522.94,280.38 520.8,277.41 518.82,274.45 516.35,271.65 512.24,270 505.65,270.49 500.71,271.15 501.24,271.18 497.47,270.24 492.76,268.82 490.88,267.88 489,266.94 485.24,267.88 480.53,266 477.24,264.12 473.94,261.29 472.06,258.94 469.71,258.94 466.88,258.47 467.82,258.94 469.24,260.35 470.65,262.71 472.06,266 473.94,269.29 475.82,272.59 476.58,271.65 476.29,269.29 477.71,270.24 478.65,272.59 479.59,274.94 481.47,274.94 484.29,274.28 487.12,272.59 489,270.24 489.94,267.41 490.88,272.12 492.76,274.94 495.59,276.82 497.47,279.18 494.65,283.88 490.88,288.12 487.12,291.41 483.82,293.48 479.59,297.06 474.88,299.41 470.18,301.29 465.47,302.71 462.18,304.12 460.76,298.94 460.58,294.24 458.88,291.41 456.06,287.65 453.24,282 450.41,277.29 447.59,271.65 444.29,266.94 441.47,262.24 441,261.76 440.65,257.47 439.82,255 440.15,250.88 440.65,247.26 441.14,244.29 442.29,241.82 443.12,240.18 438.18,241 433.24,241.82 428.29,240.67 425,240.18 423.88,241.12 420.26,239.14 419.76,234.53 418.94,230.41 421.41,228.76 427.18,227.94 432.12,227.12 438.71,227.94 445.29,228.76 450.24,229.59 455.18,227.94 450.24,225.47 447.76,223.82 443.65,219.71 442,216.41 437.88,218.88 435.41,220.53 432.94,218.06 428.82,216.41 424.71,217.24 422.24,219.71 420.59,222.18 421.41,225.47 420.26,227.94 418.94,227.94 415.65,228.76 418.12,230.41 415.65,232.06 412.35,232.88 414,236.18 412.35,238.65 414,241.94 411.53,241.12 409.06,237.82 407.41,235.35 404.94,233.71 403.79,230.41 404.12,227.12 401.65,229.59 397.53,226.29 393.41,222.18 390.12,220.53 388.47,223 391.76,227.12 395.88,231.24 400,235.35 402.47,238.15 400,239.14 398.35,237 396.71,240.29 395.06,241.94 394.24,238.65 390.94,234.53 386.82,230.41 383.53,227.12 379.41,223.82 375.29,224.65 369.53,226.62 367.06,229.59 362.94,232.88 360.47,237 356.35,240.29 352.24,242.76 349.76,243.09 347.29,240.29Z" fill="#fff7ec"/>
<path d="M351.47,187.06 355.59,185.41 358.88,186.56 357.24,189.53 359.71,193.15 363.33,197.76 366.29,201.88 365.47,204.35 359.71,206 353.12,206.82 351.47,206 355.59,203.53 353.12,201.06 355.59,199.41 354.76,196.94 352.29,194.47 353.12,191.18Z" fill="#fff7ec"/>
<path d="M343.56,197.76 346.53,194.8 350.65,194.14 351.8,196.94 350.15,200.24 346.53,202.38 343.56,201.88Z" fill="#fff7ec"/>
<path d="M389.62,238.15 393.41,237.49 396.71,238.15 395.06,241.12 391.27,240.29Z" fill="#fff7ec"/>
<path d="M380.73,227.12 382.71,226.29 383.53,230.41 382.38,235.35 380.24,234.53Z" fill="#fff7ec"/>
<path d="M381.88,222.18 383.04,221.68 383.53,225.47 382.05,225.96Z" fill="#fff7ec"/>
<path d="M414,244.08 419.76,244.41 419.76,245.73 414.33,245.4Z" fill="#fff7ec"/>
<path d="M432.94,245.24 437.06,244.08 437.39,245.73 434.09,246.72Z" fill="#fff7ec"/>
<path d="M493.21,137.85 497.82,136.86 504.41,138.18 508.53,140.15 506.06,141.47 499.47,141.14 494.53,139.82Z" fill="#fff7ec"/>
<path d="M510.18,140.65 514.29,140.15 517.59,141.8 514.29,143.45 510.67,142.29Z" fill="#fff7ec"/>
<path d="M573.26,147.24 578.53,146.08 585.94,147.73 586.76,149.38 580.18,149.71 574.41,148.88Z" fill="#fff7ec"/>
<path d="M589.24,148.06 595,147.73 595,149.71 590.06,149.71Z" fill="#fff7ec"/>
<path d="M575,146.74 581.59,146.41 587.35,148.06 586.53,149.71 579.94,149.38 575,148.88Z" fill="#fff7ec"/>
<path d="M589,148.06 596.41,148.55 596.41,149.71 589.49,149.38Z" fill="#fff7ec"/>
<path d="M584.88,151.35 591.47,151.68 591.14,153.33 585.71,153Z" fill="#fff7ec"/>
<path d="M655.38,156.29 658.18,156.79 657.85,157.94 655.71,157.45Z" fill="#fff7ec"/>
<path d="M445.88,155.29 448.94,149.41 456.47,146.35 465.88,144.71 467.06,146.35 458.82,148.71 452.94,151.76 450.59,155.29 456.47,158.12 454.12,158.82 448.24,157.65Z" fill="#fff7ec"/>
<path d="M378.35,140.71 385.88,138.82 392.94,138.35 401.18,138.82 400,140.71 395.29,141.18 398.82,143.53 392.94,143.06 389.41,145.41 384.71,144 381.18,143.06Z" fill="#fff7ec"/>
<path d="M427.06,137.65 431.76,136.94 435.76,137.88 431.76,139.06Z" fill="#fff7ec"/>
<path d="M493.65,137.65 498.82,136.94 507.06,139.29 508.71,141.18 501.18,140.71 495.29,139.29Z" fill="#fff7ec"/>
<path d="M510.59,140.71 516.47,141.65 521.18,144 517.18,144 511.76,142.59Z" fill="#fff7ec"/>
<path d="M639.24,196.65 644.18,200.76 649.94,206.53 654.88,209.82 652.41,210.32 648.29,207.35 644.18,203.24 640.06,198.29Z" fill="#fff7ec"/>
<path d="M651.59,210.65 657.35,216.41 656.04,217.24 652.41,213.94Z" fill="#fff7ec"/>
<path d="M649.29,210 652.59,211.65 657.53,216.59 655.88,216.92 651.76,213.29Z" fill="#fff7ec"/>
<path d="M655.88,219.88 658.35,219.06 660.82,221.53 664.94,221.53 667.08,223.18 664.94,225.65 664.12,227.79 660,226.47 657.53,228.12 656.21,225.65 657.2,222.85Z" fill="#fff7ec"/>
<path d="M660,229.44 663.29,230.59 665.44,234.71 666.59,238.82 668.73,243.76 667.41,246.56 663.29,247.55 660.82,249.53 658.35,248.71 655.06,250.35 652.59,252 651.76,255.79 650.12,254.47 646.82,250.35 649.29,248.21 651.76,245.41 655.06,244.26 657.53,243.76 657.2,240.47 659.18,239.65 661.65,237.18 660.49,233.06Z" fill="#fff7ec"/>
<path d="M616.35,405.65 618.82,397.41 620.47,394.12 625.41,391.65 631.18,389.18 636.94,387.53 640.24,384.24 642.71,380.94 645.18,381.76 648.47,376.82 653.41,373.53 657.53,376 659.18,372.71 662.47,369.41 665.44,368.59 666.59,366.94 669.06,368.59 674,368.09 676.47,369.41 674.82,372.71 672.35,376.33 677.29,380.12 682.24,383.41 684.71,381.27 686.35,376 688,369.41 689.65,365.79 691.29,370.24 692.45,375.18 695.08,376.82 695.41,382.59 697.88,387.53 701.18,392.47 702.82,397.41 705.29,402.35 706.12,406.47 704.47,412.24 702.59,413.82 697.88,420.41 692.24,426.06 686.59,431.71 680.94,436.79 675.29,438.29 673.41,435.47 668.71,437.92 664.94,435.47 664,429.82 663.06,424.74 659.86,428.51 658.35,425.12 655.53,420.41 649.88,419.47 643.29,420.41 635.76,422.86 630.12,425.12 623.53,427 616.94,428.51 614.12,426.06 617.88,421.35 618.45,413.82Z" fill="#fee8c8"/>
<path d="M668.14,444.32 672.47,443 676.8,443.94 674.35,448.08 670.59,450.53 667.76,449.59Z" fill="#fee8c8"/>
<path d="M738.92,427.38 740.8,427.94 741.55,432.65 746.45,435.47 743.06,439.24 737.41,443 733.27,445.45 731.76,443.56 734.59,439.24 738.35,435.47Z" fill="#fee8c8"/>
<path d="M705.41,456.18 712.94,451.47 720.47,447.71 728,443.56 730.26,444.32 728.94,447.71 722.35,451.47 714.82,456.18 709.18,458.62 706.35,458.06Z" fill="#fee8c8"/>
<path d="M152.47,298 153.29,294.71 155.76,293.88 156.09,290.59 159.88,290.26 160.38,293.55 162.35,294.71 165.65,295.2 169.76,295.86 173.06,298 169.76,300.47 165.65,302.12 163.18,302.94 159.06,301.79 155.76,300.8 152.47,299.65Z" fill="#fc8d59" stroke="#7a6a5c" stroke-width="0.4" stroke-linejoin="round"/>
<path d="M163.18,302.94 165.65,302.12 169.76,300.47 172.24,299.15 171.41,303.76 170.26,307.06 167.29,307.39 164.82,305.41Z" fill="url(#hatch)" stroke="#d8d8d8" stroke-width="0.6" stroke-linejoin="round"/>
<path d="M165.65,308.71 168.12,307.88 170.59,309.04 172.56,312 173.06,314.96 170.92,314.47 169.76,312 166.96,311.18Z" fill="#fee8c8" stroke="#7a6a5c" stroke-width="0.4" stroke-linejoin="round"/>
<path d="M173.06,314.96 175.53,313.65 178.82,312.82 182.12,312.33 185.41,313.65 184.59,316.12 181.29,315.29 178.82,316.94 176.35,317.76 173.88,316.61Z" fill="url(#hatch)" stroke="#d8d8d8" stroke-width="0.6" stroke-linejoin="round"/>
<path d="M160.38,290.26 162.35,289.76 162.35,293.88 160.71,293.55Z" fill="url(#hatch)" stroke="#d8d8d8" stroke-width="0.6" stroke-linejoin="round"/>
<path d="M171.41,279.06 176.35,276.59 182.12,277.08 187.06,279.88 192,283.18 194.47,284.33 193.65,285.32 188.71,284 183.76,281.53 178.82,279.39 173.88,280.38Z" fill="url(#hatch)" stroke="#d8d8d8" stroke-width="0.6" stroke-linejoin="round"/>
<path d="M185.08,289.27 187.88,288.61 190.02,289.76 187.88,290.92 185.41,290.59Z" fill="#ef6548" stroke="#7a6a5c" stroke-width="0.4" stroke-linejoin="round"/>
<path d="M193.65,288.61 197.27,288.12 196.94,285.65 199.91,285.32 201.06,288.12 200.24,290.26 196.94,289.76 193.98,289.76Z" fill="#990000" stroke="#7a6a5c" stroke-width="0.4" stroke-linejoin="round"/>
<path d="M199.91,285.32 203.53,285.32 206.82,287.29 207.65,288.94 204.35,289.76 201.88,290.59 200.24,290.26 201.06,288.12Z" fill="#fc8d59" stroke="#7a6a5c" stroke-width="0.4" stroke-linejoin="round"/>
<path d="M210.12,288.94 213.08,288.94 213.08,290.26 210.12,290.26Z" fill="url(#hatch)" stroke="#d8d8d8" stroke-width="0.6" stroke-linejoin="round"/>
<path d="M186.24,267.2 189.53,266.71 190.02,268.85 187.06,268.52Z" fill="url(#hatch)" stroke="#d8d8d8" stroke-width="0.6" stroke-linejoin="round"/>
<path d="M187.06,271.65 188.71,271.15 189.04,274.45 187.39,274.45Z" fill="url(#hatch)" stroke="#d8d8d8" stroke-width="0.6" stroke-linejoin="round"/>
<path d="M185.65,314.76 190.59,309 195.53,306.86 199.32,304.55 199.98,306.53 197.18,309 195.53,312.29 196.35,316.41 200.47,318.88 205.41,321.35 208.71,322.18 209.2,325.47 207.88,328.76 209.2,332.55 207.55,334.53 204.59,333.21 202.12,334.53 201.62,339.47 200.96,343.59 196.35,342.76 192.24,339.47 189.76,338.15 186.47,336.18 181.86,333.71 181.53,330.41 184,325.47 185.15,320.53Z" fill="#fdd49e" stroke="#7a6a5c" stroke-width="0.4" stroke-linejoin="round"/>
<path d="M199.98,306.53 202.12,305.21 205.41,308.18 209.53,309.49 214.47,310.15 219.41,309.49 222.38,310.65 224.35,315.59 222.38,319.71 223.53,323.82 219.41,327.12 215.79,327.12 214.14,330.41 210.85,334.53 209.2,332.55 207.88,328.76 209.2,325.47 208.71,322.18 205.41,321.35 200.47,318.88 196.35,316.41 195.53,312.29 197.18,309Z" fill="url(#hatch)" stroke="#d8d8d8" stroke-width="0.6" stroke-linejoin="round"/>
<path d="M221.06,309 223.04,308.51 223.53,310.15 221.72,310.65Z" fill="#fdbb84" stroke="#7a6a5c" stroke-width="0.4" stroke-linejoin="round"/>
<path d="M222.38,319.71 225.67,315.59 229.29,318.88 231.76,321.35 230.12,324.65 229.62,327.94 232.26,332.06 228.96,333.71 226,332.88 225.18,327.94 223.53,323.82Z" fill="#fdd49e" stroke="#7a6a5c" stroke-width="0.4" stroke-linejoin="round"/>
<path d="M231.76,321.35 236.71,321.68 238.35,324.32 236.71,327.94 235.06,330.41 232.26,332.06 229.62,327.94 230.12,324.65Z" fill="url(#hatch)" stroke="#d8d8d8" stroke-width="0.6" stroke-linejoin="round"/>
<path d="M238.35,324.32 242.47,323.33 244.45,327.12 241.65,330.41 238.35,330.91 235.06,330.41 236.71,327.94Z" fill="url(#hatch)" stroke="#d8d8d8" stroke-width="0.6" stroke-linejoin="round"/>
<path d="M178.24,335.35 181.86,333.71 186.47,336.18 189.76,338.15 188.45,341.94 185.65,344.41 182.35,346.06 180.21,349.35 177.41,347.71 178.24,343.59 176.26,341.12Z" fill="#fdbb84" stroke="#7a6a5c" stroke-width="0.4" stroke-linejoin="round"/>
<path d="M175.76,348.53 177.41,347.71 180.21,349.35 182.35,346.06 185.65,344.41 188.45,341.94 189.76,338.15 192.24,339.47 196.35,342.76 200.96,343.59 200.47,347.71 196.35,350.18 193.88,354.29 194.71,360.06 199.65,363.35 202.94,366.65 203.76,370.76 205.41,374.88 205.41,381.47 203.76,384.76 200.47,383.12 194.71,379 189.76,374.06 185.65,365.82 181.53,358.41 177.41,353.47Z" fill="#fc8d59" stroke="#7a6a5c" stroke-width="0.4" stroke-linejoin="round"/>
<path d="M202.94,366.65 207.88,365 212,363.35 213.65,367.47 217.76,369.94 222.71,372.41 225.18,377.35 229.29,379 231.76,384.76 232.59,388.88 230.12,389.12 226,387.47 222.38,389.94 222.38,394.06 224.35,397.35 219.41,394.55 217.76,395.71 213.65,394.55 210.85,396.53 208.71,391.59 206.56,385 205.41,381.47 205.41,374.88 203.76,370.76Z" fill="url(#hatch)" stroke="#d8d8d8" stroke-width="0.6" stroke-linejoin="round"/>
<path d="M210.85,396.53 213.65,394.55 217.76,395.71 219.41,394.55 224.35,397.35 229.29,400.65 233.41,403.94 235.06,408.06 238.35,408.06 240.82,404.76 243.29,405.59 242.47,408.88 239.18,412.18 235.88,415.47 235.06,420.41 235.88,426.18 239.18,429.47 240.49,433.59 238.35,437.38 233.41,438.53 230.12,440.18 230.94,444.29 226.82,445.12 229.29,448.41 226.82,450.88 227.65,454.18 225.18,457.47 226,459.94 228.96,462.41 227.65,466.53 226,469.82 226.82,472.29 224.35,473.12 219.41,469.82 216.45,465.71 215.79,459.94 214.47,454.18 212.49,448.41 210.85,442.65 211.18,436.06 209.53,430.29 209.86,423.71 207.88,417.94 208.21,412.18 210.35,406.41 209.53,400.65Z" fill="#fdbb84" stroke="#7a6a5c" stroke-width="0.4" stroke-linejoin="round"/>
<path d="M228.47,474.76 230.12,476.41 235.06,478.55 237.2,479.54 235.88,478.88Z" fill="#fdbb84" stroke="#7a6a5c" stroke-width="0.4" stroke-linejoin="round"/>
<path d="M235.88,415.47 239.18,417.12 243.29,419.59 246.59,422.88 246.09,426.18 242.47,428.15 239.18,427.49 235.88,426.18 235.06,420.41Z" fill="#fee8c8" stroke="#7a6a5c" stroke-width="0.4" stroke-linejoin="round"/>
<path d="M222.38,389.94 226,387.47 230.12,389.12 232.59,394.06 236.71,395.71 240,398.18 241.15,403.12 240.82,404.76 238.35,408.06 235.06,408.06 233.41,403.94 229.29,400.65 224.35,397.35 222.38,394.06Z" fill="url(#hatch)" stroke="#d8d8d8" stroke-width="0.6" stroke-linejoin="round"/>
<path d="M359.53,244.47 364.47,242.49 371.06,241.18 379.29,240.85 380.12,247.76 383.41,254.35 385.06,258.47 384.56,269.18 389.18,274.94 372.71,286.96 369.41,284.82 350.47,271.65 343.39,266.21 343.39,265.06 348.82,258.47 355.41,255.18 360.35,251.88Z" fill="#fee8c8" stroke="#7a6a5c" stroke-width="0.4" stroke-linejoin="round"/>
<path d="M380.12,240.85 383.41,239.53 385.06,242 384.56,245.29 387.53,248.59 388.35,252.71 385.06,256 383.41,254.35 380.12,247.76Z" fill="#fdd49e" stroke="#7a6a5c" stroke-width="0.4" stroke-linejoin="round"/>
<path d="M388.35,252.71 392.47,251.39 397.41,252.71 402.35,255.18 406.47,257.32 408.12,253.53 411.41,251.88 417.18,252.71 418.49,255.18 418,260.94 419.65,284.82 416.35,284.82 397.41,276.59 393.29,277.41 389.18,274.94 384.56,269.18 385.06,258.47 385.06,256Z" fill="#fdbb84" stroke="#7a6a5c" stroke-width="0.4" stroke-linejoin="round"/>
<path d="M418.49,255.18 425.41,256 432,256 436.12,255.18 440.24,256.82 438.92,260.94 437.27,259.29 435.29,258.47 437.76,263.41 441.88,271.65 445.51,279.06 419.65,279.39 418.49,265.88Z" fill="#fdbb84" stroke="#7a6a5c" stroke-width="0.4" stroke-linejoin="round"/>
<path d="M397.41,276.59 416.35,284.82 417.18,297.18 414.71,298.82 413.88,304.59 415.53,308.71 411.41,311.18 405.65,315.29 401.53,316.94 398.24,314.47 398.73,310.35 395.76,307.06 394.94,302.94 393.29,301.29 394.94,295.53 397.41,290.59 398.73,284Z" fill="#d7301f" stroke="#7a6a5c" stroke-width="0.4" stroke-linejoin="round"/>
<path d="M324.61,281.04 332.85,281.04 334,275.76 336.47,269.18 343.39,268.85 343.39,266.21 350.47,271.65 348.82,273.29 349.65,285.65 350.47,296.76 340.59,297.24 335.88,298.18 333.53,297.24 331.18,294.88 328.35,293.94 325.53,293.94 326.59,288.12 325.27,284Z" fill="#d7301f" stroke="#7a6a5c" stroke-width="0.4" stroke-linejoin="round"/>
<path d="M350.47,271.65 369.41,284.82 372.71,286.96 372.12,288.76 372.12,293.47 370.71,295.82 365.06,296.76 361.29,297.71 359.41,299.12 355.65,301.94 353.29,303.35 350.94,307.59 350.47,310.88 348.12,309.94 344.35,310.41 343.41,308.53 342,305.71 338.24,305.24 336.35,305.24 335.69,302.41 335.41,299.12 333.53,297.24 335.88,298.18 340.59,297.24 350.47,296.76 349.65,285.65 348.82,273.29Z" fill="#fdd49e" stroke="#7a6a5c" stroke-width="0.4" stroke-linejoin="round"/>
<path d="M372.71,286.96 389.18,274.94 393.29,277.41 397.41,276.59 398.73,284 397.41,290.59 394.94,295.53 393.29,301.29 394.24,301.47 391.41,302.41 387.65,301.94 383.88,302.88 380.12,302.41 376.35,301 373.53,301.47 371.65,303.82 371.18,308.53 370.24,306.18 367.88,304.76 366,303.35 364.12,300.06 361.29,297.71 365.06,296.76 370.71,295.82 372.12,293.47 372.12,288.76Z" fill="#ef6548" stroke="#7a6a5c" stroke-width="0.4" stroke-linejoin="round"/>
<path d="M323.18,298.65 325.06,295.82 328.35,293.94 331.18,294.88 333.53,297.24 335.41,299.12 335.69,302.41 334.94,304.29 330.24,304.29 325.06,304.76 324.4,302.88 326.94,302.41 330.71,301.94 330.71,301.19 326.94,301.47 324.12,301.75Z" fill="#fdd49e" stroke="#7a6a5c" stroke-width="0.4" stroke-linejoin="round"/>
<path d="M324.21,301.94 326.94,301.66 330.71,301.38 330.71,301.85 326.94,302.22 324.31,302.51Z" fill="#d7301f" stroke="#7a6a5c" stroke-width="0.4" stroke-linejoin="round"/>
<path d="M332.59,314.18 334,311.82 336.35,311.16 338.24,312.76 338.24,315.59 336.82,318.41 334.94,317.47 333.06,316.06Z" fill="#990000" stroke="#7a6a5c" stroke-width="0.4" stroke-linejoin="round"/>
<path d="M336.82,318.41 338.24,315.59 340.59,315.12 342,317.47 343.41,319.82 345.29,322.65 345.29,325.47 343.88,325.47 341.53,323.59 339.18,321.24Z" fill="#990000" stroke="#7a6a5c" stroke-width="0.4" stroke-linejoin="round"/>
<path d="M343.41,308.53 344.35,310.41 348.12,309.94 350.47,310.88 353.76,311.54 356.12,311.82 355.65,315.12 356.12,318.88 355.65,322.65 356.12,324.06 350.94,324.53 347.18,325 345.29,325.47 345.29,322.65 343.41,319.82 343.41,316.53 343.88,312.29Z" fill="#fdbb84" stroke="#7a6a5c" stroke-width="0.4" stroke-linejoin="round"/>
<path d="M350.47,310.88 350.94,307.59 353.29,303.35 355.65,301.94 359.41,299.12 361.29,297.71 364.12,300.06 366,303.35 367.88,304.76 366,306.18 363.18,308.06 359.41,308.53 356.12,308.53 356.12,311.82 353.76,311.54Z" fill="#fc8d59" stroke="#7a6a5c" stroke-width="0.4" stroke-linejoin="round"/>
<path d="M356.12,308.53 359.41,308.53 363.18,308.06 363.65,312.29 364.12,317 364.31,321.24 362.24,322.65 359.41,324.06 356.12,324.06 355.65,322.65 356.12,318.88 355.65,315.12 356.12,311.82Z" fill="#fc8d59" stroke="#7a6a5c" stroke-width="0.4" stroke-linejoin="round"/>
<path d="M363.18,308.06 365.06,309 366,313.24 366.47,317.47 366.75,321.24 364.31,321.24 364.12,317 363.65,312.29Z" fill="#ef6548" stroke="#7a6a5c" stroke-width="0.4" stroke-linejoin="round"/>
<path d="M365.06,309 366,306.18 367.88,304.76 370.24,306.18 371.18,308.53 370.24,311.82 369.58,316.06 369.58,320.76 366.75,321.24 366.47,317.47 366,313.24Z" fill="#d7301f" stroke="#7a6a5c" stroke-width="0.4" stroke-linejoin="round"/>
<path d="M371.18,308.53 371.65,303.82 373.53,301.47 376.35,301 380.12,302.41 383.88,302.88 387.65,301.94 391.41,302.41 394.24,301.47 396.12,304.76 394.24,308.53 392.35,312.29 390.94,316.06 388.59,318.41 386.71,319.82 384.82,320.76 382.94,322.65 380.12,325.47 377.29,325.94 374.94,324.53 373.53,321.24 369.58,320.76 369.58,316.06 370.24,311.82Z" fill="#b30000" stroke="#7a6a5c" stroke-width="0.4" stroke-linejoin="round"/>
<path d="M395.76,307.06 398.73,310.35 398.24,314.47 396.59,316.94 397.41,321.88 398.24,326 397.76,318 396.94,322.94 398.59,327.06 399.41,331.51 394.47,330.35 389.53,329.53 384.59,327.06 385.01,327.35 382.94,322.65 384.82,320.76 386.71,319.82 388.59,318.41 390.94,316.06 392.35,312.29 394.24,308.53 396.12,304.76Z" fill="#d7301f" stroke="#7a6a5c" stroke-width="0.4" stroke-linejoin="round"/>
<path d="M420.47,312 425.41,310.35 432,312 436.94,310.35 438.59,306.24 441.88,308.71 441.06,313.65 443.53,319.41 445.18,323.53 441.41,318 443.88,323.76 439.76,327.06 434,326.24 427.41,325.41 423.29,322.12 422.47,318 422.12,321.88 418.82,316.94Z" fill="#990000" stroke="#7a6a5c" stroke-width="0.4" stroke-linejoin="round"/>
<path d="M446.35,300.47 450.47,298.82 455.41,300.47 459.2,305.08 458.71,307.06 459.86,308.38 462.82,311.18 469.41,315.29 472.71,316.94 469.41,320.24 464.47,324.35 471.88,318 468.59,322.12 463.65,325.41 458.71,327.06 453.76,327.88 447.18,326.24 443.88,323.76 441.41,318 443.06,321.88 442.24,317.76 440.59,313.65 443.06,308.71 445.53,304.59Z" fill="#d7301f" stroke="#7a6a5c" stroke-width="0.4" stroke-linejoin="round"/>
<path d="M459.2,305.08 461.18,304.09 462,306.73 459.86,308.38 458.71,307.06Z" fill="#fc8d59" stroke="#7a6a5c" stroke-width="0.4" stroke-linejoin="round"/>
<path d="M406,325.41 411.76,324.59 415.88,325.41 420.82,323.76 427.41,325.41 432.35,326.24 434,328.71 433.18,333.65 431.53,339.41 431.53,344.35 430.71,348.47 429.88,353.41 431.53,358.35 429.06,360.82 429.06,365.76 430.71,369.39 429.88,371.53 427.41,369.06 423.29,367.41 419.18,366.59 415.06,365.76 413.41,360.82 411.76,356.21 407.65,356.21 404.35,358.35 401.88,356.71 400.24,352.59 392,352.59 391.18,350.94 394.47,349.62 399.41,348.47 400.24,344.35 402.71,339.41 405.18,334.47 405.18,329.53Z" fill="#990000" stroke="#7a6a5c" stroke-width="0.4" stroke-linejoin="round"/>
<path d="M434,328.71 439.76,327.06 443.06,327.88 443.55,333.65 441.41,339.41 435.65,340.24 432.02,339.41 433.18,333.65Z" fill="#ef6548" stroke="#7a6a5c" stroke-width="0.4" stroke-linejoin="round"/>
<path d="M443.88,323.76 447.18,326.24 453.76,327.88 458.71,327.06 457.88,332.82 457.88,340.24 458.71,342.71 452.94,349.29 448.82,346 442.24,341.06 441.41,339.41 443.55,333.65 443.06,327.88 439.76,327.06Z" fill="#b30000" stroke="#7a6a5c" stroke-width="0.4" stroke-linejoin="round"/>
<path d="M431.53,340.73 434,340.73 434.33,343.86 431.86,344.35Z" fill="url(#hatch)" stroke="#d8d8d8" stroke-width="0.6" stroke-linejoin="round"/>
<path d="M431.53,344.68 434,344.35 433.67,347.98 431.53,348.64Z" fill="#b30000" stroke="#7a6a5c" stroke-width="0.4" stroke-linejoin="round"/>
<path d="M435.65,340.24 441.41,339.41 442.24,341.06 448.82,346 452.94,349.29 452.45,353.41 453.76,358.35 454.59,364.12 449.65,366.59 443.88,367.41 440.26,364.94 438.94,361.65 435.65,359.18 431.53,358.35 429.88,353.41 430.71,348.47 433.67,347.65 434.33,343.53 434,340.73Z" fill="#ef6548" stroke="#7a6a5c" stroke-width="0.4" stroke-linejoin="round"/>
<path d="M415.06,365.76 419.18,366.59 423.29,367.41 427.41,369.06 429.88,371.53 428.24,367.41 429.06,360.82 431.53,358.35 435.65,359.18 438.94,361.65 440.26,364.94 438.94,369.06 439.76,372.35 436.47,374 432.35,375.65 430.71,378.12 427.41,380.59 424.12,383.06 419.18,383.88 415.06,381.41 413.41,377.29 413.41,371.53 416.71,370.71 417.53,366.59Z" fill="#fc8d59" stroke="#7a6a5c" stroke-width="0.4" stroke-linejoin="round"/>
<path d="M438.94,361.65 440.26,364.94 440.92,369.06 442.24,373.18 444.71,376.47 443.88,380.59 441.91,379.76 441.41,375.65 439.76,372.35 438.94,369.06Z" fill="#b30000" stroke="#7a6a5c" stroke-width="0.4" stroke-linejoin="round"/>
<path d="M424.12,383.06 427.41,380.59 430.71,378.12 434,378.94 437.62,381.41 437.29,385.53 435.65,392.94 432.35,394.59 429.06,392.94 425.76,389.65 422.47,387.18 420.82,384.71Z" fill="#d7301f" stroke="#7a6a5c" stroke-width="0.4" stroke-linejoin="round"/>
<path d="M389.53,381.91 394.47,381.41 399.41,381.91 406,382.24 412.59,383.06 415.06,383.55 410.94,384.21 410.12,390.47 408.47,393.76 407.65,400.35 407.32,407.76 406,411.88 402.38,413.53 399.41,412.71 397.76,406.94 395.29,398.71 392.49,390.47 390.35,385.53Z" fill="#ef6548" stroke="#7a6a5c" stroke-width="0.4" stroke-linejoin="round"/>
<path d="M410.94,384.21 415.06,383.55 419.18,383.88 420.82,384.71 422.47,387.18 425.76,389.65 429.06,392.94 428.24,395.41 424.94,397.06 422.47,399.53 420,402.82 415.88,404.47 412.59,403.65 410.12,406.94 407.98,407.76 407.65,400.35 408.47,393.76 410.12,390.47Z" fill="#ef6548" stroke="#7a6a5c" stroke-width="0.4" stroke-linejoin="round"/>
<path d="M399.41,412.71 402.38,413.53 406,411.88 407.32,407.76 410.12,406.94 412.59,403.65 415.88,404.47 420,402.82 422.47,399.53 424.94,397.06 428.24,395.41 432.35,394.59 434.33,395.41 434,401.18 434.33,404.47 435.32,404.49 435.98,408.12 434.82,412.24 432.35,416.02 429.06,419.65 424.12,422.94 419.18,424.92 413.41,425.41 408.47,426.56 405.18,427.88 402.71,425.41 401.88,420.47 400.24,416.35 399.41,412.73Z" fill="#fdd49e" stroke="#7a6a5c" stroke-width="0.4" stroke-linejoin="round"/>
<path d="M422.47,414.71 425.44,411.74 428.24,413.88 425.44,417.67Z" fill="#ef6548" stroke="#7a6a5c" stroke-width="0.4" stroke-linejoin="round"/>
<path d="M431.86,404.82 433.67,404 434.82,406.47 433.18,408.45 431.53,407.29Z" fill="#ef6548" stroke="#7a6a5c" stroke-width="0.4" stroke-linejoin="round"/>
<path d="M475.18,369.06 477.15,370.71 478.14,375.65 476,381.41 474.35,387.18 471.88,393.76 469.41,400.35 466.12,403.65 462.82,402.82 461.18,398.71 461.18,393.76 463.65,388.82 463.65,383.06 465.29,379.76 470.24,377.29 472.71,373.18Z" fill="#b30000" stroke="#7a6a5c" stroke-width="0.4" stroke-linejoin="round"/>
<path d="M462,367.08 463.65,367.41 464.47,369.06 462.66,369.39Z" fill="#b30000" stroke="#7a6a5c" stroke-width="0.4" stroke-linejoin="round"/>
<path d="M633.65,272.59 636.12,270.94 636.94,275.06 635.79,279.18 633.65,277.53Z" fill="url(#hatch)" stroke="#d8d8d8" stroke-width="0.6" stroke-linejoin="round"/>
<path d="M609.44,285.76 612.24,284.12 614.38,286.59 612.24,289.39 609.76,288.73Z" fill="url(#hatch)" stroke="#d8d8d8" stroke-width="0.6" stroke-linejoin="round"/>
<path d="M460.41,217.94 463.71,215.96 467.82,214.98 471.12,216.29 471.94,219.59 468.65,220.41 467.82,223.71 470.29,227 472.76,231.12 476.06,234.41 478.04,237.71 474.41,239.68 470.29,238.53 468.15,234.41 467,230.29 463.71,227 461.56,222.88Z" fill="#ffffff" stroke="#7a6a5c" stroke-width="0.4" stroke-linejoin="round"/>
<path d="M418.94,230.41 421.41,228.76 427.18,227.94 432.12,227.12 438.71,227.94 445.29,228.76 450.24,229.59 455.18,227.94 449.71,229.14 454.65,231.12 457.12,233.59 457.94,234.41 459.59,238.53 462.55,241.82 463.21,245.94 465.35,250.06 468.65,254.18 471.12,258.29 466.88,258.47 467.82,258.94 469.24,260.35 470.65,262.71 472.06,266 473.94,269.29 475.82,272.59 476.58,271.65 476.29,269.29 477.71,270.24 478.65,272.59 479.59,274.94 480.53,276.82 483.35,277.76 486.65,278.24 488.06,277.29 489,274.47 490.13,272.12 490.88,272.12 492.76,274.94 495.59,276.82 497.47,279.18 494.65,283.88 490.88,288.12 487.12,291.41 483.82,293.48 482.41,290.47 481,287.84 476.29,289.06 472.06,290.47 469.24,293.11 465.47,292.16 462.18,292.35 460.58,294.24 458.88,291.41 456.06,287.65 453.24,282 450.41,277.29 447.59,271.65 444.29,266.94 441.47,262.24 441,261.76 440.65,257.47 440.65,255 441.8,250.88 442.29,246.76 442.79,244.29 441.47,243.96 442.29,241.82 443.12,240.18 438.18,241 433.24,241.82 428.29,240.67 425,240.18 423.88,241.12 420.26,239.14 419.76,234.53Z" fill="url(#hatch)" stroke="#d8d8d8" stroke-width="1.1" stroke-linejoin="round"/>
<path d="M415.65,228.76 418.94,227.94 420.26,229.92 417.29,230.41Z" fill="url(#hatch)" stroke="#d8d8d8" stroke-width="0.6" stroke-linejoin="round"/>
<path d="M472.76,231.12 476.06,228.15 480.18,228.65 480,228.06 482.82,228.53 484.71,227.12 487.06,226.65 489.41,228.53 492.24,229.66 495.06,231.35 497.88,233.24 501.18,235.12 504,237.47 506.35,238.88 509.93,240.01 509.18,240.29 505.88,239.35 503.06,241.24 500.24,244.53 498.35,244.06 495.53,245.47 495,241.82 490.88,239.35 485.94,237.71 481,238.53 478.04,237.71 476.06,234.41Z" fill="url(#hatch)" stroke="#d8d8d8" stroke-width="0.6" stroke-linejoin="round"/>
<path d="M535.29,303.76 532,297.18 528.71,291.41 527.06,285.65 525.41,282.35 522.94,280.38 520.8,277.41 518.82,274.45 522.94,272.47 519.71,268.18 518.88,264.88 523,261.59 526.29,257.47 527.94,252.53 525.47,248.41 527.12,246.76 531.73,244.62 531.53,244.35 534.82,246.82 536.47,250.94 539.76,255.06 542.24,257.86 541.08,259.18 543.06,262.47 548,264.45 553.76,267.08 559.86,268.24 561.18,268.24 567.76,267.74 568.59,265.44 568.59,264.94 569.41,267.41 572.71,273.18 576,270.71 574.35,274 573.53,278.12 571.56,280.47 568.76,278.82 565.47,279.65 563,280.47 559.71,282.94 555.59,287.06 552.29,291.18 549,295.29 546.86,299.41 546.53,304.35 545.71,310.12 543.24,315.06 541.59,316.21 539.12,311.76 536.65,307.65 535,305.18Z" fill="url(#hatch)" stroke="#d8d8d8" stroke-width="1.1" stroke-linejoin="round"/>
<path d="M560.35,264.94 564.47,263.79 568.59,265.44 567.76,267.74 561.18,268.24Z" fill="url(#hatch)" stroke="#d8d8d8" stroke-width="0.6" stroke-linejoin="round"/>
<path d="M562,270.71 566.94,269.88 569.41,272.35 571.06,275.65 570.24,279.76 567.76,278.12 565.29,278.94 563.15,275.65Z" fill="url(#hatch)" stroke="#d8d8d8" stroke-width="0.6" stroke-linejoin="round"/>
<path d="M539.44,209.44 543.88,212.24 548.82,217.18 552.94,219.65 559.53,222.12 565.29,224.92 574.35,225.91 582.59,228.21 587.53,226.24 593.29,225.41 594.94,221.29 599.06,218.82 607.29,215.04 602.35,213.06 597.41,211.41 598.24,207.79 600.71,205.65 599.06,201.53 601.53,199.06 607.29,199.06 613.06,202.35 617.18,205.65 622.94,208.94 629.53,212.24 633.65,211.41 637.76,214.71 636.94,218.82 637.76,223.76 635.29,225.41 632,228.71 627.88,232 625.41,233.65 627.06,233.06 622.94,234.38 620.47,232.24 617.18,234.71 614.71,236.35 618.82,238.82 622.94,238 627.06,239.65 625.41,242.12 622.94,245.41 625.41,248.71 629.53,252.82 633.15,257.76 634.14,262.71 632,267.65 630.35,272.59 627.06,275.88 622.94,278.35 618.82,280 614.71,281.15 610.59,281.65 608.12,280.82 606.47,280.82 605.65,279.76 601.53,277.29 597.41,278.12 594.12,279.76 590.82,279.76 585.88,274 583.41,269.06 582.59,264.12 580.12,263.29 577.65,266.59 576,270.71 572.71,273.18 569.41,267.41 568.59,264.94 564.47,263.79 560.35,264.94 559.53,264.45 552.94,261.15 547.18,258.85 542.24,257.86 539.76,255.06 536.47,250.94 534.82,246.82 531.53,244.35 528.24,242.38 524.94,240.24 520,239.41 524.24,239.35 523.29,236.06 521.41,233.42 523.29,231.82 526.12,230.41 528.94,228.53 531.76,226.65 524.12,226.24 529.88,225.41 532.35,222.94 529.06,220.47 533.18,218 532.35,214.71 536.47,213.06Z" fill="url(#hatchC)" stroke="#d8d8d8" stroke-width="1.1" stroke-linejoin="round"/>
<path d="M638.59,224.82 636.94,228.94 635.29,232.24 636.12,234.71 634.14,238 633.65,237.18 630.35,234.71 627.06,233.06 625.41,233.65 627.88,232 632,228.71 635.29,225.41 637.76,223.76Z" fill="url(#hatch)" stroke="#d8d8d8" stroke-width="0.6" stroke-linejoin="round"/>
<path d="M512,226.84 514.82,225.24 517.65,224.29 521.41,224.76 525.18,224.58 528.94,224.76 531.76,226.65 528.94,228.53 526.12,230.41 523.29,231.82 521.41,233.24 518.59,234.18 515.76,233.71 517.18,231.82 515.76,229.94 512.94,229.66 511.53,228.53Z" fill="url(#hatch)" stroke="#d8d8d8" stroke-width="0.6" stroke-linejoin="round"/>
<path d="M507.29,234.65 509.18,233.24 511.06,232.29 512.47,233.24 511.53,230.88 510.59,229 511.53,228.06 512.94,229.66 515.76,229.94 517.18,231.82 514.82,232.29 512.94,233.24 515.76,233.99 518.59,234.36 521.41,233.42 523.29,236.06 524.24,239.35 521.41,240.01 519.53,240.76 518.12,240.58 516.89,237.94 515.29,237.19 513.88,238.41 512.47,239.82 509.93,240.01 508.24,237.47Z" fill="#fdd49e" stroke="#7a6a5c" stroke-width="0.4" stroke-linejoin="round"/>
<path d="M479.02,219.92 480,220.06 483.29,218.65 486.59,220.53 489.41,222.41 492.24,223.82 496.47,223.35 500.24,224.29 502.59,227.12 504.94,229.47 507.76,230.41 510.12,228.53 511.53,228.06 510.59,229 511.53,230.88 512.47,233.24 511.06,232.29 509.18,233.24 507.29,234.65 508.24,237.47 509.93,240.01 506.35,238.88 504,237.47 501.18,235.12 497.88,233.24 495.06,231.35 492.24,229.66 489.41,228.53 487.06,226.65 484.71,227.12 482.82,228.53 480,228.06 480.18,228.15 479.35,225.35Z" fill="#fdd49e" stroke="#7a6a5c" stroke-width="0.4" stroke-linejoin="round"/>
<path d="M457.94,234.41 460.41,236.06 464.53,238.53 468.65,240.18 474.41,239.68 478.04,237.71 481,238.53 485.94,237.71 490.88,239.35 495,241.82 496.65,245.94 495.82,250.06 497.47,254.18 498.29,258.29 500.76,261.59 503.73,265.71 501.59,268.18 500.76,270.98 497.47,270.24 492.76,268.82 490.88,267.88 489,266.94 485.24,267.88 480.53,266 477.24,264.12 473.94,261.29 472.06,258.94 469.71,258.94 466.88,258.47 468.65,254.18 465.35,250.06 463.21,245.94 462.55,241.82 459.59,238.53Z" fill="#fdbb84" stroke="#7a6a5c" stroke-width="0.4" stroke-linejoin="round"/>
<path d="M523.82,241.82 527.94,243.47 531.73,244.62 527.12,246.76 525.47,248.41 527.94,252.53 526.29,257.47 523,261.59 518.88,264.88 519.71,268.18 523,272.29 518.88,274.76 516.41,271.47 512.29,270.65 505.71,270.65 500.76,270.98 501.59,268.18 503.73,265.71 500.76,261.59 504.06,259.12 507.35,259.12 508.18,257.14 512.29,253.85 515.59,250.55 516.41,246.76 517.56,242.32Z" fill="#fc8d59" stroke="#7a6a5c" stroke-width="0.4" stroke-linejoin="round"/>
<path d="M495.53,245.47 498.35,244.06 500.24,244.53 503.06,241.24 505.88,239.35 509.18,240.29 512.47,239.35 514.35,237.47 515.76,237 516.71,240.29 518.12,240.76 521.41,240.01 524.24,239.64 524.71,240.29 521.41,241.24 518.59,241.89 518.12,244.53 517.65,247.35 515.76,249.24 516.24,251.12 514.35,253 512,255.35 510.12,256.29 509.65,259.12 506.35,259.59 502.59,259.78 498.35,259.59 499.29,257.24 497.41,253.94 496.47,250.18 495.81,247.82Z" fill="#990000" stroke="#7a6a5c" stroke-width="0.4" stroke-linejoin="round"/>
<path d="M541.08,259.18 543.06,257.53 548,260 553.76,262.47 559.53,264.45 559.86,268.24 553.76,267.08 548,264.45 543.06,262.47Z" fill="#fdbb84" stroke="#7a6a5c" stroke-width="0.4" stroke-linejoin="round"/>
<path d="M546.2,313.41 547.85,311.27 550.15,313.41 551.47,317.53 550.15,321.15 547.85,321.65 546.2,318.35Z" fill="#fee8c8" stroke="#7a6a5c" stroke-width="0.4" stroke-linejoin="round"/>
<path d="M460.58,294.24 462.18,292.35 465.47,292.16 469.24,293.11 472.06,290.47 476.29,289.06 481,287.84 482.41,290.47 483.82,293.48 479.59,297.06 474.88,299.41 470.18,301.29 465.47,302.71 462.18,304.12 460.76,298.94Z" fill="#b30000" stroke="#7a6a5c" stroke-width="0.4" stroke-linejoin="round"/>
<path d="M479.59,274.94 481.47,274.94 484.29,274.28 487.12,272.59 489,270.24 489.75,269.58 490.13,272.12 489,274.47 488.06,277.29 486.65,278.24 483.35,277.76 480.53,276.82Z" fill="#fff7ec" stroke="#7a6a5c" stroke-width="0.4" stroke-linejoin="round"/>
<path d="M467.16,258.94 469.24,260.16 468.48,261.76 466.88,261.11Z" fill="#fee8c8" stroke="#7a6a5c" stroke-width="0.4" stroke-linejoin="round"/>
<path d="M440.65,247.26 442.29,246.76 441.8,250.88 440.65,255 439.82,255 440.15,250.88Z" fill="#fc8d59" stroke="#7a6a5c" stroke-width="0.4" stroke-linejoin="round"/>
<path d="M440.98,244.29 442.46,243.96 442.29,246.76 440.65,247.26Z" fill="#fdbb84" stroke="#7a6a5c" stroke-width="0.4" stroke-linejoin="round"/>
<path d="M446.08,223.71 449.71,224.2 454.65,225.85 458.76,227.49 460.41,229.47 457.12,229.8 453,228.65 449.71,229.14 448.06,227Z" fill="#fdbb84" stroke="#7a6a5c" stroke-width="0.4" stroke-linejoin="round"/>
<path d="M455.47,230.29 457.94,229.8 460.41,231.94 462.06,234.41 459.59,234.41 457.94,234.41 457.12,232.76Z" fill="#fdd49e" stroke="#7a6a5c" stroke-width="0.4" stroke-linejoin="round"/>
<path d="M458.76,229.14 462.06,229.47 466.18,230.29 468.65,232.76 468.15,235.24 465.35,234.41 462.88,235.24 460.91,232.76 460.41,229.47Z" fill="#fee8c8" stroke="#7a6a5c" stroke-width="0.4" stroke-linejoin="round"/>
<path d="M575.35,268.12 578.65,264 581.94,263.51 584.08,267.29 583.59,273.06 586.06,277.18 590.18,279.65 592.65,281.29 591,283.76 588.53,285.41 585.73,288.71 587.38,293.15 588.53,296.94 589.68,302.71 591,306.82 590.18,310.12 589.02,306.82 587.38,301.88 585.24,296.94 584.41,293.15 581.94,295.29 578.65,295.79 577.49,291.18 575.35,287.06 572.55,283.76 571.56,280.47 572.55,276.35 574.53,273.06Z" fill="#fdbb84" stroke="#7a6a5c" stroke-width="0.4" stroke-linejoin="round"/>
<path d="M590.18,279.65 592.65,278.82 595.12,280.47 598.41,279.65 600.06,282.94 604.18,285.41 601.71,287.88 604.18,291.18 607.47,295.29 608.79,299.41 605.82,300.24 604.18,298.59 603.35,294.47 600.88,291.18 596.76,290.35 593.47,287.06 591,283.76 592.65,281.29Z" fill="#fdbb84" stroke="#7a6a5c" stroke-width="0.4" stroke-linejoin="round"/>
<path d="M592.65,278.82 595.12,277.18 600.06,276.35 604.18,278 606.65,281.29 605.82,287.06 608.29,292 611.59,297.76 613.73,303.53 613.24,307.65 609.12,310.94 605,314.24 603.35,311.76 605.82,309.29 608.79,306.82 609.12,302.71 608.79,299.41 607.47,295.29 604.18,291.18 601.71,287.88 604.18,285.41 600.06,282.94 598.41,279.65 595.12,280.47Z" fill="#fee8c8" stroke="#7a6a5c" stroke-width="0.4" stroke-linejoin="round"/>
<path d="M597.59,302.71 600.06,300.24 604.18,298.59 605.82,300.24 608.79,299.41 609.12,302.71 608.79,306.82 605.82,309.29 602.53,309.62 599.56,307.98 598.41,306.82Z" fill="#fdbb84" stroke="#7a6a5c" stroke-width="0.4" stroke-linejoin="round"/>
<path d="M594.29,320.82 598.41,321.15 600.88,324.94 602.86,329.88 603.35,333.67 600.88,333.18 597.59,329.88 594.62,324.94Z" fill="#fee8c8" stroke="#7a6a5c" stroke-width="0.4" stroke-linejoin="round"/>
<path d="M582.44,323.29 586.88,323.29 591.82,328.24 596.76,334 601.71,339.76 606.47,344.71 607.29,351.29 605.65,352.12 601.53,348.82 596.59,343.06 592.47,336.47 586.88,330.71 583.59,325.76Z" fill="#fff7ec" stroke="#7a6a5c" stroke-width="0.4" stroke-linejoin="round"/>
<path d="M605.65,352.94 610.59,352.12 617.18,354.59 623.76,356.56 628.71,358.71 627.88,359.86 622.12,359.53 614.71,357.88 608.94,356.24 606.14,354.59Z" fill="#fff7ec" stroke="#7a6a5c" stroke-width="0.4" stroke-linejoin="round"/>
<path d="M631.18,359.2 635.29,358.21 636.94,359.53 633.15,360.85Z" fill="#fff7ec" stroke="#7a6a5c" stroke-width="0.4" stroke-linejoin="round"/>
<path d="M638.59,358.71 645.18,357.88 646,359.53 640.24,360.85Z" fill="#fff7ec" stroke="#7a6a5c" stroke-width="0.4" stroke-linejoin="round"/>
<path d="M636.94,362 640.24,362.49 639.41,364.14 636.94,363.15Z" fill="#fff7ec" stroke="#7a6a5c" stroke-width="0.4" stroke-linejoin="round"/>
<path d="M646.33,363.15 650.12,359.86 655.06,358.71 655.88,359.53 651.76,362.49 647.65,364.47Z" fill="#fff7ec" stroke="#7a6a5c" stroke-width="0.4" stroke-linejoin="round"/>
<path d="M614.38,334 617.18,335.65 622.94,334 627.88,331.53 632,327.41 635.29,329.88 636.94,335.65 634.47,339.76 633.15,344.71 630.35,347.18 625.41,346.35 619.65,344.71 616.35,341.41 614.71,337.29Z" fill="#fff7ec" stroke="#7a6a5c" stroke-width="0.4" stroke-linejoin="round"/>
<path d="M614.71,332.85 619.65,331.2 624.59,328.24 628.71,324.12 631.18,320 636.12,321.65 637.76,324.12 634.47,325.76 632,327.41 627.88,331.53 622.94,334 617.18,335.65Z" fill="#fee8c8" stroke="#7a6a5c" stroke-width="0.4" stroke-linejoin="round"/>
<path d="M639.41,335.65 644.35,334 652.26,333.18 650.94,335.15 646,336.47 643.53,338.45 647.65,339.76 646.33,342.24 643.04,341.41 645.18,346.35 646.82,350.47 644.35,351.29 642.38,347.18 640.73,344.71 639.74,351.29 637.76,350.47 637.44,344.71 638.59,339.76Z" fill="#fff7ec" stroke="#7a6a5c" stroke-width="0.4" stroke-linejoin="round"/>
<path d="M656.71,332.35 658.85,331.86 660,335.65 658.35,338.94 657.04,336.47Z" fill="#fff7ec" stroke="#7a6a5c" stroke-width="0.4" stroke-linejoin="round"/>
<path d="M653.41,345.04 656.71,344.71 655.88,346.35 653.41,346.35Z" fill="#fff7ec" stroke="#7a6a5c" stroke-width="0.4" stroke-linejoin="round"/>
<path d="M658.35,344.38 663.29,344.38 664.94,346.35 660.82,346.68 658.35,346.02Z" fill="#fff7ec" stroke="#7a6a5c" stroke-width="0.4" stroke-linejoin="round"/>
<path d="M664.45,339.76 669.06,338.12 672.35,340.09 671.53,342.73 674.82,344.38 679.76,341.41 684.71,342.24 688.49,344.38 688,360.35 683.88,359.53 679.76,359.2 681.41,357.06 678.94,352.94 675.65,349.65 671.53,347.18 668.24,346.35 667.41,343.88 664.94,341.41Z" fill="#fff7ec" stroke="#7a6a5c" stroke-width="0.4" stroke-linejoin="round"/>
<path d="M688.49,344.38 692.94,346.35 697.88,348.82 702,352.12 703.65,354.59 700.35,356.24 703.65,359.53 708.59,364.14 705.29,364.47 700.35,362 695.41,361.18 691.29,361.51 688,360.35Z" fill="url(#hatch)" stroke="#d8d8d8" stroke-width="0.6" stroke-linejoin="round"/>
<path d="M705.29,351.29 710.24,349.65 714.35,346.35 716,348 712.71,351.29 707.76,352.94Z" fill="url(#hatch)" stroke="#d8d8d8" stroke-width="0.6" stroke-linejoin="round"/>
<path d="M719.29,351.29 721.76,352.61 725.88,355.91 729.67,358.38 729.18,359.2 725.06,357.06 721.27,353.76Z" fill="url(#hatch)" stroke="#d8d8d8" stroke-width="0.6" stroke-linejoin="round"/>
<path d="M671.53,352.12 673.18,351.29 673.67,353.76 672.02,354.92Z" fill="#fff7ec" stroke="#7a6a5c" stroke-width="0.4" stroke-linejoin="round"/>
<path d="M637.12,289.53 640.41,289.2 642.06,292 641.24,296.12 642.88,299.41 647,301.06 650.29,303.53 651.12,306.82 648.65,306 645.35,303.53 642.06,302.71 640.41,304.35 638.76,301.88 638.44,298.59 636.79,294.47Z" fill="#fdbb84" stroke="#7a6a5c" stroke-width="0.4" stroke-linejoin="round"/>
<path d="M642.39,306.82 645.02,307.32 647,310.12 645.68,312.59 643.71,311.27Z" fill="#fdbb84" stroke="#7a6a5c" stroke-width="0.4" stroke-linejoin="round"/>
<path d="M647.82,306 651.12,306.82 650.79,309.29 648.65,308.64Z" fill="#fdbb84" stroke="#7a6a5c" stroke-width="0.4" stroke-linejoin="round"/>
<path d="M632.51,314.56 635.8,309.29 637.45,307.65 637.94,308.96 635.14,313.41 633.49,315.55Z" fill="#fdbb84" stroke="#7a6a5c" stroke-width="0.4" stroke-linejoin="round"/>
<path d="M643.71,316.71 647.82,315.06 650.29,312.26 652.76,312.92 653.92,316.71 652.76,320.82 650.29,322.47 648.65,319.18 646.18,318.35 644.04,318.35Z" fill="#fdbb84" stroke="#7a6a5c" stroke-width="0.4" stroke-linejoin="round"/>
<path d="M408.59,209.47 409.53,206.18 411.41,203.35 414.71,202.41 418.94,202.88 423.65,202.41 426.47,201.75 429.29,201.47 430.24,203.35 434,204.76 437.29,206.18 440.59,206.84 443.88,208.34 443.41,211.82 441.06,213.24 438.24,213.71 435.88,214.93 437.29,217 435.88,219.07 434,220.76 431.65,219.35 430.24,217.47 431.65,216.81 428.35,215.12 425.53,216.06 424.12,217.94 422.24,218.41 422.71,216.53 421.29,214.18 418.94,212.29 417.06,211.35 414.24,211.82 411.41,211.54 409.06,211.16Z" fill="#fdbb84" stroke="#7a6a5c" stroke-width="0.4" stroke-linejoin="round"/>
<path d="M417.53,211.54 418.94,211.16 421.29,212.76 423.18,215.12 424.59,216.53 423.18,217 421.76,216.06 420.82,213.99 418.94,212.48Z" fill="#fdd49e" stroke="#7a6a5c" stroke-width="0.4" stroke-linejoin="round"/>
<path d="M405.76,216.06 407.65,213.71 410.47,212.29 414.24,212.11 417.06,211.54 418.94,212.48 420.82,213.99 421.76,216.06 422.24,218.41 425.06,218.13 423.65,219.82 422.24,221.89 418.94,222.65 415.18,223.12 411.88,222.18 409.53,220.76 407.18,218.88Z" fill="#fee8c8" stroke="#7a6a5c" stroke-width="0.4" stroke-linejoin="round"/>
<path d="M411.41,223.12 415.18,223.4 418.94,222.84 422.24,222.18 421.58,224.53 420.82,226.88 418,228.29 415.18,229.24 412.35,228.48 410.94,226.41Z" fill="#fee8c8" stroke="#7a6a5c" stroke-width="0.4" stroke-linejoin="round"/>
<path d="M396.82,214.18 399.18,212.76 402.94,211.82 407.18,211.54 408.59,212.48 407.65,213.71 405.76,216.06 402.94,217 399.65,217 397.76,216.06Z" fill="#fee8c8" stroke="#7a6a5c" stroke-width="0.4" stroke-linejoin="round"/>
<path d="M406.71,227.82 410,226.88 411.41,228.48 410,229.99 407.18,230.18Z" fill="#fee8c8" stroke="#7a6a5c" stroke-width="0.4" stroke-linejoin="round"/>
<path d="M402,225 403.88,224.06 405.29,225.94 403.88,227.16 402.47,226.6Z" fill="#fee8c8" stroke="#7a6a5c" stroke-width="0.4" stroke-linejoin="round"/>
<path d="M404.07,227.16 405.58,226.41 406.52,228.76 406.24,231.59 405.58,233.19 404.35,232.06 403.88,229.71Z" fill="#fc8d59" stroke="#7a6a5c" stroke-width="0.4" stroke-linejoin="round"/>
<path d="M403.41,189.24 406.24,188.29 409.53,188.58 413.76,187.82 416.12,190.65 414.24,191.78 410.47,191.4 407.18,191.12 404.35,191.4 402.94,190.65Z" fill="#fee8c8" stroke="#7a6a5c" stroke-width="0.4" stroke-linejoin="round"/>
<path d="M407.18,185 414.24,185 414.71,186.88 413.76,187.82 409.53,188.58 407.65,187.35Z" fill="#fee8c8" stroke="#7a6a5c" stroke-width="0.4" stroke-linejoin="round"/>
<path d="M401.71,176.35 403.35,173.06 406.15,170.59 405,168.12 403.85,162.35 406.65,159.55 410.76,159.06 413.24,162.35 412.41,165.65 414.88,169.76 417.35,173.06 419.82,175.53 416.53,179.65 414.06,181.29 409.12,182.12 405,181.29 402.2,179.65Z" fill="#fee8c8" stroke="#7a6a5c" stroke-width="0.4" stroke-linejoin="round"/>
<path d="M343.51,227.94 346.47,227.12 349.44,227.94 348.45,233.71 347.29,239.8 344,240.79 343.18,236.18 342.85,231.56Z" fill="#fee8c8" stroke="#7a6a5c" stroke-width="0.4" stroke-linejoin="round"/>
<path d="M9,284.5 10.8,284.2 12,286 10.6,288 9,287.4Z" fill="#fee8c8" stroke="#7a6a5c" stroke-width="0.4" stroke-linejoin="round"/>
<path d="M5,280.4 6.2,280.6 6,281.4 5,281.2Z" fill="#fee8c8" stroke="#7a6a5c" stroke-width="0.4" stroke-linejoin="round"/>
<path d="M7,281.3 8.3,281.8 8,282.7 7,282.2Z" fill="#fee8c8" stroke="#7a6a5c" stroke-width="0.4" stroke-linejoin="round"/>
<path d="M2,279 3,279.2 2.8,280 2,279.8Z" fill="#fee8c8" stroke="#7a6a5c" stroke-width="0.4" stroke-linejoin="round"/>
<path d="M0,332 1.2,332 1.2,333 0,333Z" fill="#8a7a6a" stroke="#7a6a5c" stroke-width="0.4" stroke-linejoin="round"/>
<path d="M305,292 306.2,292.2 306,293.6 305,293.4Z" fill="#fdbb84" stroke="#7a6a5c" stroke-width="0.4" stroke-linejoin="round"/>
<path d="M307.2,293.2 308.2,293.4 308,294.4 307.2,294.2Z" fill="#fdbb84" stroke="#7a6a5c" stroke-width="0.4" stroke-linejoin="round"/>
<path d="M310,293.4 311,293.6 310.8,294.6 310,294.4Z" fill="#fdbb84" stroke="#7a6a5c" stroke-width="0.4" stroke-linejoin="round"/>
<path d="M221.2,291.8 222.4,291.8 222.4,293 221.2,293Z" fill="url(#hatch)" stroke="#d8d8d8" stroke-width="0.6" stroke-linejoin="round"/>
<path d="M222.3,295.3 223.5,295.3 223.5,296.5 222.3,296.5Z" fill="url(#hatch)" stroke="#d8d8d8" stroke-width="0.6" stroke-linejoin="round"/>
<path d="M222.8,300 224,300 224,301.2 222.8,301.2Z" fill="url(#hatch)" stroke="#d8d8d8" stroke-width="0.6" stroke-linejoin="round"/>
<path d="M221.9,304.7 223.1,304.7 223.1,305.9 221.9,305.9Z" fill="url(#hatch)" stroke="#d8d8d8" stroke-width="0.6" stroke-linejoin="round"/>
<path d="M734,390 735.5,389.8 740,394.5 739,395.6 735,392.5Z" fill="url(#hatch)" stroke="#d8d8d8" stroke-width="0.6" stroke-linejoin="round"/>
<path d="M743.5,376 744.6,376.2 744.8,380.4 743.8,380.4Z" fill="url(#hatch)" stroke="#d8d8d8" stroke-width="0.6" stroke-linejoin="round"/>
<path d="M766,381 769,379.6 770,380.6 767,382.2Z" fill="url(#hatch)" stroke="#d8d8d8" stroke-width="0.6" stroke-linejoin="round"/>
<path d="M771,379.8 774,379 774.2,380 771.4,380.8Z" fill="url(#hatch)" stroke="#d8d8d8" stroke-width="0.6" stroke-linejoin="round"/>
<path d="M492.4,389.5 493.5,389.6 493.4,390.6 492.4,390.5Z" fill="#fdbb84" stroke="#7a6a5c" stroke-width="0.4" stroke-linejoin="round"/>
<path d="M128.12,160.21 103.91,181.29 107.53,182.94 112.47,183.76" fill="none" stroke="#8c7f72" stroke-width="0.5" stroke-linejoin="round"/>
<path d="M114.94,209.29 171.76,209.29 180,211.27" fill="none" stroke="#8c7f72" stroke-width="0.5" stroke-linejoin="round"/>
<path d="M179.88,211.18 182.35,210.85 187.29,213.15 191.41,216.94 192.24,221.06 188.94,226.82 187.79,227.98 193.06,226.82 198.82,223.53 205.41,221.88 211.18,219.41 216.12,218.59 218.59,215.29 222.71,213.15" fill="none" stroke="#8c7f72" stroke-width="0.5" stroke-linejoin="round"/>
<path d="M105.04,251.06 111.29,252.38 117.06,255.18 123.65,255.18 128.59,254.02 132.71,259.29 136.82,260.12 139.29,260.94 141.76,266.71 144.24,269.18" fill="none" stroke="#8c7f72" stroke-width="0.5" stroke-linejoin="round"/>
<path d="M156.09,296.85 159.06,298 161.53,300.47 163.18,302.94" fill="none" stroke="#8c7f72" stroke-width="0.5" stroke-linejoin="round"/>
<path d="M160.38,293.55 158.73,295.53 159.06,298" fill="none" stroke="#8c7f72" stroke-width="0.5" stroke-linejoin="round"/>
<path d="M343.88,261.76 343.06,266.21 343.39,268.85 336.47,269.18 334,275.76 332.85,281.04" fill="none" stroke="#cfcfcf" stroke-width="0.5" stroke-linejoin="round"/>
<path d="M325.06,304.76 330.24,304.29 330.71,306.18 327.88,307.59" fill="none" stroke="#cfcfcf" stroke-width="0.5" stroke-linejoin="round"/>
<path d="M392,352.59 400.24,352.59 401.88,356.71 404.35,358.35 407.65,356.21 411.76,356.21" fill="none" stroke="#cfcfcf" stroke-width="0.5" stroke-linejoin="round"/>
<path d="M389.53,381.91 394.47,381.41 399.41,381.91 406,382.24 412.59,383.06" fill="none" stroke="#cfcfcf" stroke-width="0.5" stroke-linejoin="round"/>
<path d="M398.24,314.47 401.53,316.94 405.65,315.29 411.41,311.18 415.53,308.71 417.18,308.71 420.47,312" fill="none" stroke="#cfcfcf" stroke-width="0.5" stroke-linejoin="round"/>
<path d="M419.65,279.39 419.65,284.82 416.35,284.82" fill="none" stroke="#cfcfcf" stroke-width="0.5" stroke-linejoin="round"/>
<path d="M443.12,240.18 449.71,239.35 456.29,238.04 457.94,236.39" fill="none" stroke="#cfcfcf" stroke-width="0.5" stroke-linejoin="round"/>
<path d="M442.79,244.29 447.24,246.27 451.35,245.12 453.82,241 456.29,238.04" fill="none" stroke="#cfcfcf" stroke-width="0.5" stroke-linejoin="round"/>
<path d="M447.24,246.27 445.59,250.06 448.06,252.53 453.82,254.18 460.41,258.29 465.35,259.94 468.65,258.29 471.12,258.29" fill="none" stroke="#cfcfcf" stroke-width="0.5" stroke-linejoin="round"/>
<path d="M442.29,246.76 445.59,250.06 441.47,257.47" fill="none" stroke="#cfcfcf" stroke-width="0.5" stroke-linejoin="round"/>
<path d="M481,287.84 485.24,286.24 487.87,285.01 488.25,281.53 488.06,278.24" fill="none" stroke="#cfcfcf" stroke-width="0.5" stroke-linejoin="round"/>
<path d="M634.14,238 633.65,237.18" fill="none" stroke="#8c7f72" stroke-width="0.5" stroke-linejoin="round"/>
<path d="M376.59,197.24 379.41,195.82 383.18,195.35 386.47,196.11 389.76,197.05 390.71,200.53 391.65,203.35 389.76,204.76 387.41,206.18 388.35,208.53 389.76,210.88 388.82,212.76 385.53,213.24 382.24,213.05 379.41,212.29 378.47,209.94 375.65,208.06 375.18,205.24 376.12,202.41 375.65,199.59 376.59,197.24" fill="none" stroke="#8c7f72" stroke-width="0.5" stroke-linejoin="round"/>
<path d="M391.18,197.24 394.47,195.82 398.24,195.16 402.94,195.54 407.65,197.24 409.06,200.06 410,203.82 409.06,207.12 407.18,208.53 402.94,209 399.18,208.53 396.35,207.12 393.06,206.18 391.46,203.35" fill="none" stroke="#8c7f72" stroke-width="0.5" stroke-linejoin="round"/>
<path d="M393.06,206.18 396.35,207.12 399.18,208.53 397.29,209.94 394,210.41 390.71,209.66 388.35,208.53" fill="none" stroke="#8c7f72" stroke-width="0.5" stroke-linejoin="round"/>
<path d="M389.76,210.88 394,210.6 397.29,210.22 397.76,212.29 396.82,214.18 393.53,215.12 389.76,215.31 386.47,214.36 383.18,214.18 382.24,213.05" fill="none" stroke="#8c7f72" stroke-width="0.5" stroke-linejoin="round"/>
<path d="M399.18,208.53 402.94,209 407.18,208.53 408.78,209.66 407.18,211.54" fill="none" stroke="#8c7f72" stroke-width="0.5" stroke-linejoin="round"/>
<path d="M410.47,197.05 412.82,194.88 414.24,192.34 416.12,190.84 420.82,192.06 423.65,194.88 426.47,198.18 425.53,200.53 426.47,201.75" fill="none" stroke="#8c7f72" stroke-width="0.5" stroke-linejoin="round"/>
<path d="M403.41,192.06 407.18,191.4 411.41,191.78 414.24,192.34" fill="none" stroke="#8c7f72" stroke-width="0.5" stroke-linejoin="round"/>
<path d="M404.35,194.88 407.18,196.76 410.47,197.05" fill="none" stroke="#8c7f72" stroke-width="0.5" stroke-linejoin="round"/>
<path d="M379.41,188.76 381.76,187.82 382.71,190.18 385.06,192.06 383.18,193.94 380.35,194.41 378.94,192.06 379.41,188.76" fill="none" stroke="#8c7f72" stroke-width="0.5" stroke-linejoin="round"/>
<path d="M370.94,200.06 373.76,198.65 376.12,199.59" fill="none" stroke="#8c7f72" stroke-width="0.5" stroke-linejoin="round"/>
<path d="M370,205.24 372.35,206.65 375.18,205.24" fill="none" stroke="#8c7f72" stroke-width="0.5" stroke-linejoin="round"/>
<path d="M372.35,203.35 374.24,202.41 375.65,202.41" fill="none" stroke="#8c7f72" stroke-width="0.5" stroke-linejoin="round"/>
<path d="M375.65,213.71 378.47,212.76 382.24,213.24" fill="none" stroke="#8c7f72" stroke-width="0.5" stroke-linejoin="round"/>
<path d="M375.65,213.71 375.84,215.59 378,216.53 381.29,216.06 383.18,214.36" fill="none" stroke="#8c7f72" stroke-width="0.5" stroke-linejoin="round"/>
<path d="M389.76,215.31 390.24,217.94 392.59,219.35 395.41,219.35 398.24,218.88 402,219.82 402.47,217.47 399.65,217" fill="none" stroke="#8c7f72" stroke-width="0.5" stroke-linejoin="round"/>
<path d="M395.41,219.35 398.24,222.65 401.53,225 402.47,222.65 402,219.82" fill="none" stroke="#8c7f72" stroke-width="0.5" stroke-linejoin="round"/>
<path d="M402.47,217.47 405.76,216.25" fill="none" stroke="#8c7f72" stroke-width="0.5" stroke-linejoin="round"/>
<path d="M409.53,220.76 410.94,222.65 410.94,226.41 410,226.88 406.71,227.82 405.29,225.94 403.88,224.06 402.47,222.65" fill="none" stroke="#8c7f72" stroke-width="0.5" stroke-linejoin="round"/>
<path d="M378.47,209.94 376.59,212.29 375.65,213.71" fill="none" stroke="#8c7f72" stroke-width="0.5" stroke-linejoin="round"/>
<path d="M416.12,190.84 417.06,187.82 415.18,186.41" fill="none" stroke="#8c7f72" stroke-width="0.5" stroke-linejoin="round"/>
<path d="M384.41,186.24 386.06,181.29 385.24,176.35 387.71,171.41 391.82,167.29 396.76,164 400.88,162.35 403.85,162.35 405,168.12" fill="none" stroke="#8c7f72" stroke-width="0.5" stroke-linejoin="round"/>
<path d="M403.85,162.35 406.65,159.55 410.76,159.06 414.06,158.24" fill="none" stroke="#8c7f72" stroke-width="0.5" stroke-linejoin="round"/>
<path d="M356.35,224.32 362.12,225.47 369.53,226.62" fill="none" stroke="#8c7f72" stroke-width="0.5" stroke-linejoin="round"/>
<path d="M375.29,224.65 377.76,221.35 376.94,217.24" fill="none" stroke="#8c7f72" stroke-width="0.5" stroke-linejoin="round"/>
<path d="M376.94,217.24 378.59,213.94 376.12,210.65 372,207.35 368.71,205.71" fill="none" stroke="#8c7f72" stroke-width="0.5" stroke-linejoin="round"/>
<path d="M379.41,223.82 378.59,221.35 382.71,219.71 386.82,219.38 390.12,220.53" fill="none" stroke="#8c7f72" stroke-width="0.5" stroke-linejoin="round"/>
<path d="M404.94,233.71 406.59,232.06 410.71,230.41 414.82,229.59 418.12,230.41" fill="none" stroke="#8c7f72" stroke-width="0.5" stroke-linejoin="round"/>
<path d="M457.12,207.24 460.41,203.94 465.35,202.29 472.76,203.94 479.35,204.76 484.29,204.76 481.82,201.47 482.65,197.35 488.41,195.71 495.82,193.24 500.76,195.71 505.71,197.85 510.65,196.2 514.76,199 519.71,202.29 523.82,204.76 530.41,206.41 537,209.38 538.65,210.53" fill="none" stroke="#8c7f72" stroke-width="0.5" stroke-linejoin="round"/>
<path d="M538.65,210.53 536.18,213.82 532.06,216.29 528.76,220.41 530.41,223.71 527.94,225.35 522.18,224.53 516.41,225.85" fill="none" stroke="#8c7f72" stroke-width="0.5" stroke-linejoin="round"/>
<path d="M479.02,219.92 479.35,225.35 480.18,228.15" fill="none" stroke="#8c7f72" stroke-width="0.5" stroke-linejoin="round"/>
<path d="M457.12,207.24 458.76,213.82 460.41,217.94" fill="none" stroke="#8c7f72" stroke-width="0.5" stroke-linejoin="round"/>
<path d="M539.44,209.44 544.71,205.15 551.29,205.65 557.88,206.47 558.71,202.35 564.47,204 571.06,206.47 577.65,205.65 582.59,208.45 589.18,207.79 592.47,206.14 598.24,207.79" fill="none" stroke="#8c7f72" stroke-width="0.5" stroke-linejoin="round"/>
<path d="M520,203.51 526.59,204.49 532.35,206.47 536.47,207.79 539.44,209.44" fill="none" stroke="#8c7f72" stroke-width="0.5" stroke-linejoin="round"/>
<path d="M416.12,190.84 420.82,192.06 423.65,194.88 426.47,198.18 425.53,200.53 426.47,201.75 429.29,201.47 430.24,203.35 434,204.76 437.29,206.18 440.59,206.84 443.88,208.34 443.41,211.82" fill="none" stroke="#8c7f72" stroke-width="0.5" stroke-linejoin="round"/>
<path d="M443.45,208.88 446.08,223.71" fill="none" stroke="#8c7f72" stroke-width="0.5" stroke-linejoin="round"/>
<g>
<rect x="98.5" y="537.5" width="48" height="11" fill="url(#hatchL)" stroke="#ccc" stroke-width="1"/>
<line x1="122.5" y1="533.5" x2="122.5" y2="537.5" stroke="#ccc" stroke-width="1"/>
<rect x="166" y="537.5" width="58.5" height="11" fill="#fff7ec"/>
<rect x="224.5" y="537.5" width="58.5" height="11" fill="#fee8c8"/>
<rect x="283" y="537.5" width="58.5" height="11" fill="#fdd49e"/>
<rect x="341.5" y="537.5" width="58.5" height="11" fill="#fdbb84"/>
<rect x="400" y="537.5" width="58.5" height="11" fill="#fc8d59"/>
<rect x="458.5" y="537.5" width="58.5" height="11" fill="#ef6548"/>
<rect x="517" y="537.5" width="58.5" height="11" fill="#d7301f"/>
<rect x="575.5" y="537.5" width="58.5" height="11" fill="#b30000"/>
<rect x="634" y="537.5" width="58.5" height="11" fill="#990000"/>
<rect x="692.5" y="537.5" width="58.5" height="11" fill="#7f0000"/>
<rect x="166" y="537.5" width="585" height="11" fill="none" stroke="#ccc" stroke-width="1"/>
<line x1="166" y1="533.5" x2="166" y2="548.5" stroke="#bbb" stroke-width="0.7"/>
<line x1="224.5" y1="533.5" x2="224.5" y2="548.5" stroke="#8a8a8a" stroke-width="0.7"/>
<line x1="283" y1="533.5" x2="283" y2="548.5" stroke="#8a8a8a" stroke-width="0.7"/>
<line x1="341.5" y1="533.5" x2="341.5" y2="548.5" stroke="#8a8a8a" stroke-width="0.7"/>
<line x1="400" y1="533.5" x2="400" y2="548.5" stroke="#8a8a8a" stroke-width="0.7"/>
<line x1="458.5" y1="533.5" x2="458.5" y2="548.5" stroke="#8a8a8a" stroke-width="0.7"/>
<line x1="517" y1="533.5" x2="517" y2="548.5" stroke="#8a8a8a" stroke-width="0.7"/>
<line x1="575.5" y1="533.5" x2="575.5" y2="548.5" stroke="#8a8a8a" stroke-width="0.7"/>
<line x1="634" y1="533.5" x2="634" y2="548.5" stroke="#8a8a8a" stroke-width="0.7"/>
<line x1="692.5" y1="533.5" x2="692.5" y2="548.5" stroke="#8a8a8a" stroke-width="0.7"/>
<line x1="751" y1="533.5" x2="751" y2="548.5" stroke="#bbb" stroke-width="0.7"/>
</g>
</svg>
<div class="lg" style="left:122.5px">No data</div>
<div class="lg" style="left:166px">0%</div>
<div class="lg" style="left:224.5px">10%</div>
<div class="lg" style="left:283px">20%</div>
<div class="lg" style="left:341.5px">30%</div>
<div class="lg" style="left:400px">40%</div>
<div class="lg" style="left:458.5px">50%</div>
<div class="lg" style="left:517px">60%</div>
<div class="lg" style="left:575.5px">70%</div>
<div class="lg" style="left:634px">80%</div>
<div class="lg" style="left:692.5px">90%</div>
<div class="lg" style="left:751px">100%</div>
</body></html>
